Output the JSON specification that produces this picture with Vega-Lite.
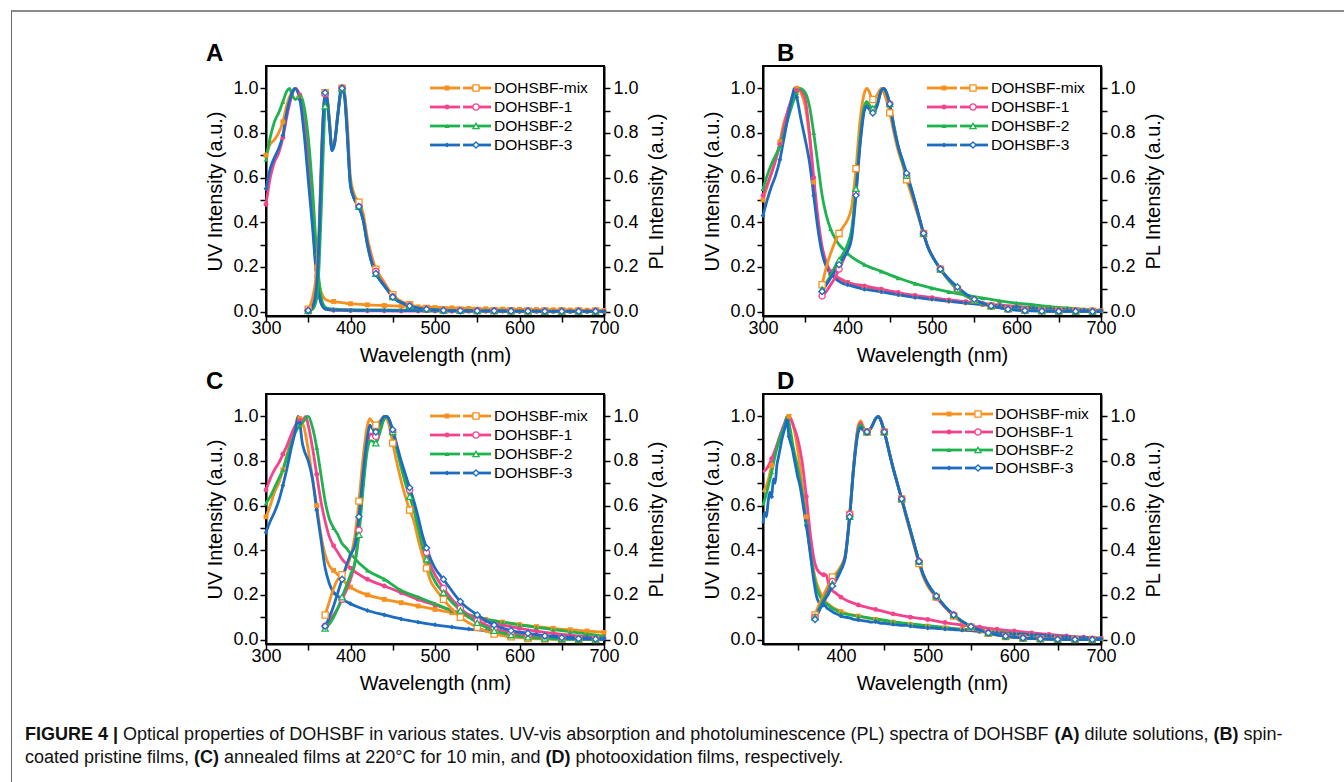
{
"$schema":"https://vega.github.io/schema/vega-lite/v6.json",
"background":"white",
"padding":{"left":8,"top":9,"right":0,"bottom":0},
"autosize":{"type":"pad"},
"bounds":"flush",
"columns":2,
"spacing":{"column":159,"row":78},
"datasets":{
"legend":[{"s":"DOHSBF-mix"},{"s":"DOHSBF-1"},{"s":"DOHSBF-2"},{"s":"DOHSBF-3"}],
"A_UV":[
{"s":"DOHSBF-mix","x":300,"y":0.70},{"s":"DOHSBF-mix","x":305,"y":0.75},{"s":"DOHSBF-mix","x":310,"y":0.77},{"s":"DOHSBF-mix","x":315,"y":0.80},{"s":"DOHSBF-mix","x":320,"y":0.85},{"s":"DOHSBF-mix","x":325,"y":0.93},{"s":"DOHSBF-mix","x":330,"y":0.98},{"s":"DOHSBF-mix","x":335,"y":1.0},{"s":"DOHSBF-mix","x":340,"y":0.96},{"s":"DOHSBF-mix","x":345,"y":0.86},{"s":"DOHSBF-mix","x":350,"y":0.64},{"s":"DOHSBF-mix","x":355,"y":0.42},{"s":"DOHSBF-mix","x":360,"y":0.20},{"s":"DOHSBF-mix","x":365,"y":0.09},{"s":"DOHSBF-mix","x":370,"y":0.055},{"s":"DOHSBF-mix","x":375,"y":0.047},{"s":"DOHSBF-mix","x":380,"y":0.045},{"s":"DOHSBF-mix","x":385,"y":0.042},{"s":"DOHSBF-mix","x":390,"y":0.04},{"s":"DOHSBF-mix","x":395,"y":0.037},{"s":"DOHSBF-mix","x":400,"y":0.035},{"s":"DOHSBF-mix","x":420,"y":0.03},{"s":"DOHSBF-mix","x":440,"y":0.027},{"s":"DOHSBF-mix","x":460,"y":0.024},{"s":"DOHSBF-mix","x":480,"y":0.021},{"s":"DOHSBF-mix","x":500,"y":0.018},{"s":"DOHSBF-mix","x":520,"y":0.016},{"s":"DOHSBF-mix","x":540,"y":0.014},{"s":"DOHSBF-mix","x":560,"y":0.012},{"s":"DOHSBF-mix","x":580,"y":0.011},{"s":"DOHSBF-mix","x":600,"y":0.01},{"s":"DOHSBF-mix","x":620,"y":0.009},{"s":"DOHSBF-mix","x":640,"y":0.008},{"s":"DOHSBF-mix","x":660,"y":0.007},{"s":"DOHSBF-mix","x":680,"y":0.006},{"s":"DOHSBF-mix","x":700,"y":0.005},
{"s":"DOHSBF-1","x":300,"y":0.48},{"s":"DOHSBF-1","x":305,"y":0.60},{"s":"DOHSBF-1","x":310,"y":0.67},{"s":"DOHSBF-1","x":315,"y":0.71},{"s":"DOHSBF-1","x":320,"y":0.78},{"s":"DOHSBF-1","x":325,"y":0.88},{"s":"DOHSBF-1","x":330,"y":0.96},{"s":"DOHSBF-1","x":335,"y":1.0},{"s":"DOHSBF-1","x":340,"y":0.97},{"s":"DOHSBF-1","x":345,"y":0.90},{"s":"DOHSBF-1","x":350,"y":0.68},{"s":"DOHSBF-1","x":355,"y":0.42},{"s":"DOHSBF-1","x":360,"y":0.16},{"s":"DOHSBF-1","x":365,"y":0.04},{"s":"DOHSBF-1","x":370,"y":0.012},{"s":"DOHSBF-1","x":375,"y":0.008},{"s":"DOHSBF-1","x":380,"y":0.006},{"s":"DOHSBF-1","x":385,"y":0.005},{"s":"DOHSBF-1","x":390,"y":0.005},{"s":"DOHSBF-1","x":395,"y":0.004},{"s":"DOHSBF-1","x":400,"y":0.004},{"s":"DOHSBF-1","x":420,"y":0.003},{"s":"DOHSBF-1","x":440,"y":0.003},{"s":"DOHSBF-1","x":460,"y":0.002},{"s":"DOHSBF-1","x":480,"y":0.002},{"s":"DOHSBF-1","x":500,"y":0.002},{"s":"DOHSBF-1","x":520,"y":0.001},{"s":"DOHSBF-1","x":540,"y":0.001},{"s":"DOHSBF-1","x":560,"y":0.001},{"s":"DOHSBF-1","x":580,"y":0.001},{"s":"DOHSBF-1","x":600,"y":0},{"s":"DOHSBF-1","x":620,"y":0},{"s":"DOHSBF-1","x":640,"y":0},{"s":"DOHSBF-1","x":660,"y":0},{"s":"DOHSBF-1","x":680,"y":0},{"s":"DOHSBF-1","x":700,"y":0},
{"s":"DOHSBF-2","x":300,"y":0.68},{"s":"DOHSBF-2","x":305,"y":0.78},{"s":"DOHSBF-2","x":310,"y":0.85},{"s":"DOHSBF-2","x":315,"y":0.89},{"s":"DOHSBF-2","x":320,"y":0.94},{"s":"DOHSBF-2","x":325,"y":0.99},{"s":"DOHSBF-2","x":328,"y":1.0},{"s":"DOHSBF-2","x":330,"y":0.98},{"s":"DOHSBF-2","x":335,"y":0.95},{"s":"DOHSBF-2","x":340,"y":0.97},{"s":"DOHSBF-2","x":345,"y":0.92},{"s":"DOHSBF-2","x":350,"y":0.78},{"s":"DOHSBF-2","x":355,"y":0.55},{"s":"DOHSBF-2","x":360,"y":0.26},{"s":"DOHSBF-2","x":365,"y":0.07},{"s":"DOHSBF-2","x":370,"y":0.02},{"s":"DOHSBF-2","x":375,"y":0.013},{"s":"DOHSBF-2","x":380,"y":0.011},{"s":"DOHSBF-2","x":385,"y":0.01},{"s":"DOHSBF-2","x":390,"y":0.009},{"s":"DOHSBF-2","x":395,"y":0.009},{"s":"DOHSBF-2","x":400,"y":0.008},{"s":"DOHSBF-2","x":420,"y":0.007},{"s":"DOHSBF-2","x":440,"y":0.007},{"s":"DOHSBF-2","x":460,"y":0.006},{"s":"DOHSBF-2","x":480,"y":0.006},{"s":"DOHSBF-2","x":500,"y":0.005},{"s":"DOHSBF-2","x":520,"y":0.005},{"s":"DOHSBF-2","x":540,"y":0.004},{"s":"DOHSBF-2","x":560,"y":0.004},{"s":"DOHSBF-2","x":580,"y":0.003},{"s":"DOHSBF-2","x":600,"y":0.003},{"s":"DOHSBF-2","x":620,"y":0.003},{"s":"DOHSBF-2","x":640,"y":0.002},{"s":"DOHSBF-2","x":660,"y":0.002},{"s":"DOHSBF-2","x":680,"y":0.002},{"s":"DOHSBF-2","x":700,"y":0.002},
{"s":"DOHSBF-3","x":300,"y":0.55},{"s":"DOHSBF-3","x":305,"y":0.64},{"s":"DOHSBF-3","x":310,"y":0.69},{"s":"DOHSBF-3","x":315,"y":0.73},{"s":"DOHSBF-3","x":320,"y":0.79},{"s":"DOHSBF-3","x":325,"y":0.90},{"s":"DOHSBF-3","x":330,"y":0.97},{"s":"DOHSBF-3","x":334,"y":1.0},{"s":"DOHSBF-3","x":340,"y":0.95},{"s":"DOHSBF-3","x":345,"y":0.80},{"s":"DOHSBF-3","x":350,"y":0.59},{"s":"DOHSBF-3","x":355,"y":0.38},{"s":"DOHSBF-3","x":360,"y":0.15},{"s":"DOHSBF-3","x":365,"y":0.04},{"s":"DOHSBF-3","x":370,"y":0.012},{"s":"DOHSBF-3","x":375,"y":0.008},{"s":"DOHSBF-3","x":380,"y":0.007},{"s":"DOHSBF-3","x":385,"y":0.006},{"s":"DOHSBF-3","x":390,"y":0.006},{"s":"DOHSBF-3","x":395,"y":0.006},{"s":"DOHSBF-3","x":400,"y":0.005},{"s":"DOHSBF-3","x":420,"y":0.005},{"s":"DOHSBF-3","x":440,"y":0.005},{"s":"DOHSBF-3","x":460,"y":0.004},{"s":"DOHSBF-3","x":480,"y":0.004},{"s":"DOHSBF-3","x":500,"y":0.004},{"s":"DOHSBF-3","x":520,"y":0.003},{"s":"DOHSBF-3","x":540,"y":0.003},{"s":"DOHSBF-3","x":560,"y":0.003},{"s":"DOHSBF-3","x":580,"y":0.003},{"s":"DOHSBF-3","x":600,"y":0.002},{"s":"DOHSBF-3","x":620,"y":0.002},{"s":"DOHSBF-3","x":640,"y":0.002},{"s":"DOHSBF-3","x":660,"y":0.002},{"s":"DOHSBF-3","x":680,"y":0.002},{"s":"DOHSBF-3","x":700,"y":0.002}
],
"A_PL":[
{"s":"DOHSBF-mix","x":350,"y":0.01},{"s":"DOHSBF-mix","x":355,"y":0.06},{"s":"DOHSBF-mix","x":360,"y":0.19},{"s":"DOHSBF-mix","x":363,"y":0.40},{"s":"DOHSBF-mix","x":366,"y":0.75},{"s":"DOHSBF-mix","x":369,"y":0.95},{"s":"DOHSBF-mix","x":370,"y":0.98},{"s":"DOHSBF-mix","x":372,"y":0.97},{"s":"DOHSBF-mix","x":375,"y":0.87},{"s":"DOHSBF-mix","x":378,"y":0.74},{"s":"DOHSBF-mix","x":381,"y":0.76},{"s":"DOHSBF-mix","x":385,"y":0.89},{"s":"DOHSBF-mix","x":389,"y":0.99},{"s":"DOHSBF-mix","x":390,"y":1.0},{"s":"DOHSBF-mix","x":393,"y":0.98},{"s":"DOHSBF-mix","x":396,"y":0.86},{"s":"DOHSBF-mix","x":400,"y":0.60},{"s":"DOHSBF-mix","x":405,"y":0.52},{"s":"DOHSBF-mix","x":410,"y":0.49},{"s":"DOHSBF-mix","x":415,"y":0.44},{"s":"DOHSBF-mix","x":420,"y":0.33},{"s":"DOHSBF-mix","x":425,"y":0.25},{"s":"DOHSBF-mix","x":430,"y":0.19},{"s":"DOHSBF-mix","x":435,"y":0.16},{"s":"DOHSBF-mix","x":440,"y":0.13},{"s":"DOHSBF-mix","x":445,"y":0.10},{"s":"DOHSBF-mix","x":450,"y":0.075},{"s":"DOHSBF-mix","x":455,"y":0.058},{"s":"DOHSBF-mix","x":460,"y":0.046},{"s":"DOHSBF-mix","x":465,"y":0.037},{"s":"DOHSBF-mix","x":470,"y":0.03},{"s":"DOHSBF-mix","x":475,"y":0.025},{"s":"DOHSBF-mix","x":480,"y":0.02},{"s":"DOHSBF-mix","x":490,"y":0.014},{"s":"DOHSBF-mix","x":500,"y":0.01},{"s":"DOHSBF-mix","x":510,"y":0.008},{"s":"DOHSBF-mix","x":530,"y":0.006},{"s":"DOHSBF-mix","x":550,"y":0.005},{"s":"DOHSBF-mix","x":570,"y":0.004},{"s":"DOHSBF-mix","x":590,"y":0.004},{"s":"DOHSBF-mix","x":610,"y":0.003},{"s":"DOHSBF-mix","x":630,"y":0.003},{"s":"DOHSBF-mix","x":650,"y":0.002},{"s":"DOHSBF-mix","x":670,"y":0.002},{"s":"DOHSBF-mix","x":690,"y":0.002},{"s":"DOHSBF-mix","x":700,"y":0.002},
{"s":"DOHSBF-1","x":350,"y":0.004},{"s":"DOHSBF-1","x":355,"y":0.02},{"s":"DOHSBF-1","x":360,"y":0.11},{"s":"DOHSBF-1","x":363,"y":0.33},{"s":"DOHSBF-1","x":366,"y":0.70},{"s":"DOHSBF-1","x":369,"y":0.94},{"s":"DOHSBF-1","x":370,"y":0.975},{"s":"DOHSBF-1","x":372,"y":0.96},{"s":"DOHSBF-1","x":375,"y":0.85},{"s":"DOHSBF-1","x":378,"y":0.73},{"s":"DOHSBF-1","x":381,"y":0.75},{"s":"DOHSBF-1","x":385,"y":0.88},{"s":"DOHSBF-1","x":389,"y":0.99},{"s":"DOHSBF-1","x":390,"y":1.0},{"s":"DOHSBF-1","x":393,"y":0.97},{"s":"DOHSBF-1","x":396,"y":0.82},{"s":"DOHSBF-1","x":400,"y":0.57},{"s":"DOHSBF-1","x":405,"y":0.50},{"s":"DOHSBF-1","x":410,"y":0.47},{"s":"DOHSBF-1","x":415,"y":0.41},{"s":"DOHSBF-1","x":420,"y":0.31},{"s":"DOHSBF-1","x":425,"y":0.23},{"s":"DOHSBF-1","x":430,"y":0.18},{"s":"DOHSBF-1","x":435,"y":0.145},{"s":"DOHSBF-1","x":440,"y":0.12},{"s":"DOHSBF-1","x":445,"y":0.09},{"s":"DOHSBF-1","x":450,"y":0.066},{"s":"DOHSBF-1","x":455,"y":0.05},{"s":"DOHSBF-1","x":460,"y":0.04},{"s":"DOHSBF-1","x":465,"y":0.032},{"s":"DOHSBF-1","x":470,"y":0.025},{"s":"DOHSBF-1","x":475,"y":0.02},{"s":"DOHSBF-1","x":480,"y":0.015},{"s":"DOHSBF-1","x":490,"y":0.01},{"s":"DOHSBF-1","x":500,"y":0.007},{"s":"DOHSBF-1","x":510,"y":0.005},{"s":"DOHSBF-1","x":530,"y":0.004},{"s":"DOHSBF-1","x":550,"y":0.003},{"s":"DOHSBF-1","x":570,"y":0.003},{"s":"DOHSBF-1","x":590,"y":0.002},{"s":"DOHSBF-1","x":610,"y":0.002},{"s":"DOHSBF-1","x":630,"y":0.001},{"s":"DOHSBF-1","x":650,"y":0.001},{"s":"DOHSBF-1","x":670,"y":0.001},{"s":"DOHSBF-1","x":690,"y":0.001},{"s":"DOHSBF-1","x":700,"y":0},
{"s":"DOHSBF-2","x":350,"y":0.003},{"s":"DOHSBF-2","x":355,"y":0.01},{"s":"DOHSBF-2","x":360,"y":0.06},{"s":"DOHSBF-2","x":363,"y":0.22},{"s":"DOHSBF-2","x":366,"y":0.52},{"s":"DOHSBF-2","x":369,"y":0.85},{"s":"DOHSBF-2","x":370,"y":0.92},{"s":"DOHSBF-2","x":372,"y":0.95},{"s":"DOHSBF-2","x":375,"y":0.85},{"s":"DOHSBF-2","x":378,"y":0.73},{"s":"DOHSBF-2","x":381,"y":0.75},{"s":"DOHSBF-2","x":385,"y":0.88},{"s":"DOHSBF-2","x":389,"y":0.99},{"s":"DOHSBF-2","x":390,"y":1.0},{"s":"DOHSBF-2","x":393,"y":0.97},{"s":"DOHSBF-2","x":396,"y":0.81},{"s":"DOHSBF-2","x":400,"y":0.57},{"s":"DOHSBF-2","x":405,"y":0.50},{"s":"DOHSBF-2","x":410,"y":0.47},{"s":"DOHSBF-2","x":415,"y":0.41},{"s":"DOHSBF-2","x":420,"y":0.30},{"s":"DOHSBF-2","x":425,"y":0.22},{"s":"DOHSBF-2","x":430,"y":0.17},{"s":"DOHSBF-2","x":435,"y":0.14},{"s":"DOHSBF-2","x":440,"y":0.115},{"s":"DOHSBF-2","x":445,"y":0.09},{"s":"DOHSBF-2","x":450,"y":0.065},{"s":"DOHSBF-2","x":455,"y":0.05},{"s":"DOHSBF-2","x":460,"y":0.04},{"s":"DOHSBF-2","x":465,"y":0.032},{"s":"DOHSBF-2","x":470,"y":0.025},{"s":"DOHSBF-2","x":475,"y":0.02},{"s":"DOHSBF-2","x":480,"y":0.015},{"s":"DOHSBF-2","x":490,"y":0.01},{"s":"DOHSBF-2","x":500,"y":0.007},{"s":"DOHSBF-2","x":510,"y":0.005},{"s":"DOHSBF-2","x":530,"y":0.004},{"s":"DOHSBF-2","x":550,"y":0.003},{"s":"DOHSBF-2","x":570,"y":0.003},{"s":"DOHSBF-2","x":590,"y":0.002},{"s":"DOHSBF-2","x":610,"y":0.002},{"s":"DOHSBF-2","x":630,"y":0.001},{"s":"DOHSBF-2","x":650,"y":0.001},{"s":"DOHSBF-2","x":670,"y":0.001},{"s":"DOHSBF-2","x":690,"y":0.001},{"s":"DOHSBF-2","x":700,"y":0},
{"s":"DOHSBF-3","x":350,"y":0.005},{"s":"DOHSBF-3","x":355,"y":0.02},{"s":"DOHSBF-3","x":360,"y":0.12},{"s":"DOHSBF-3","x":363,"y":0.35},{"s":"DOHSBF-3","x":366,"y":0.72},{"s":"DOHSBF-3","x":369,"y":0.95},{"s":"DOHSBF-3","x":370,"y":0.98},{"s":"DOHSBF-3","x":372,"y":0.96},{"s":"DOHSBF-3","x":375,"y":0.84},{"s":"DOHSBF-3","x":378,"y":0.72},{"s":"DOHSBF-3","x":381,"y":0.75},{"s":"DOHSBF-3","x":385,"y":0.88},{"s":"DOHSBF-3","x":389,"y":1.0},{"s":"DOHSBF-3","x":390,"y":1.0},{"s":"DOHSBF-3","x":393,"y":0.96},{"s":"DOHSBF-3","x":396,"y":0.80},{"s":"DOHSBF-3","x":400,"y":0.56},{"s":"DOHSBF-3","x":405,"y":0.50},{"s":"DOHSBF-3","x":410,"y":0.47},{"s":"DOHSBF-3","x":415,"y":0.41},{"s":"DOHSBF-3","x":420,"y":0.30},{"s":"DOHSBF-3","x":425,"y":0.22},{"s":"DOHSBF-3","x":430,"y":0.17},{"s":"DOHSBF-3","x":435,"y":0.14},{"s":"DOHSBF-3","x":440,"y":0.115},{"s":"DOHSBF-3","x":445,"y":0.09},{"s":"DOHSBF-3","x":450,"y":0.065},{"s":"DOHSBF-3","x":455,"y":0.05},{"s":"DOHSBF-3","x":460,"y":0.04},{"s":"DOHSBF-3","x":465,"y":0.032},{"s":"DOHSBF-3","x":470,"y":0.025},{"s":"DOHSBF-3","x":475,"y":0.02},{"s":"DOHSBF-3","x":480,"y":0.015},{"s":"DOHSBF-3","x":490,"y":0.01},{"s":"DOHSBF-3","x":500,"y":0.007},{"s":"DOHSBF-3","x":510,"y":0.005},{"s":"DOHSBF-3","x":530,"y":0.004},{"s":"DOHSBF-3","x":550,"y":0.003},{"s":"DOHSBF-3","x":570,"y":0.003},{"s":"DOHSBF-3","x":590,"y":0.002},{"s":"DOHSBF-3","x":610,"y":0.002},{"s":"DOHSBF-3","x":630,"y":0.001},{"s":"DOHSBF-3","x":650,"y":0.001},{"s":"DOHSBF-3","x":670,"y":0.001},{"s":"DOHSBF-3","x":690,"y":0.001},{"s":"DOHSBF-3","x":700,"y":0}
],
"B_UV":[
{"s":"DOHSBF-mix","x":300,"y":0.50},{"s":"DOHSBF-mix","x":305,"y":0.56},{"s":"DOHSBF-mix","x":310,"y":0.62},{"s":"DOHSBF-mix","x":315,"y":0.68},{"s":"DOHSBF-mix","x":320,"y":0.76},{"s":"DOHSBF-mix","x":325,"y":0.85},{"s":"DOHSBF-mix","x":330,"y":0.90},{"s":"DOHSBF-mix","x":335,"y":0.97},{"s":"DOHSBF-mix","x":340,"y":1.0},{"s":"DOHSBF-mix","x":345,"y":0.98},{"s":"DOHSBF-mix","x":350,"y":0.92},{"s":"DOHSBF-mix","x":355,"y":0.78},{"s":"DOHSBF-mix","x":360,"y":0.58},{"s":"DOHSBF-mix","x":365,"y":0.40},{"s":"DOHSBF-mix","x":370,"y":0.28},{"s":"DOHSBF-mix","x":375,"y":0.21},{"s":"DOHSBF-mix","x":380,"y":0.17},{"s":"DOHSBF-mix","x":385,"y":0.155},{"s":"DOHSBF-mix","x":390,"y":0.145},{"s":"DOHSBF-mix","x":395,"y":0.135},{"s":"DOHSBF-mix","x":400,"y":0.13},{"s":"DOHSBF-mix","x":420,"y":0.11},{"s":"DOHSBF-mix","x":440,"y":0.095},{"s":"DOHSBF-mix","x":460,"y":0.08},{"s":"DOHSBF-mix","x":480,"y":0.068},{"s":"DOHSBF-mix","x":500,"y":0.058},{"s":"DOHSBF-mix","x":520,"y":0.048},{"s":"DOHSBF-mix","x":540,"y":0.04},{"s":"DOHSBF-mix","x":560,"y":0.032},{"s":"DOHSBF-mix","x":580,"y":0.025},{"s":"DOHSBF-mix","x":600,"y":0.02},{"s":"DOHSBF-mix","x":620,"y":0.015},{"s":"DOHSBF-mix","x":640,"y":0.011},{"s":"DOHSBF-mix","x":660,"y":0.008},{"s":"DOHSBF-mix","x":680,"y":0.006},{"s":"DOHSBF-mix","x":700,"y":0.004},
{"s":"DOHSBF-1","x":300,"y":0.52},{"s":"DOHSBF-1","x":305,"y":0.57},{"s":"DOHSBF-1","x":310,"y":0.62},{"s":"DOHSBF-1","x":315,"y":0.68},{"s":"DOHSBF-1","x":320,"y":0.75},{"s":"DOHSBF-1","x":325,"y":0.83},{"s":"DOHSBF-1","x":330,"y":0.91},{"s":"DOHSBF-1","x":335,"y":0.96},{"s":"DOHSBF-1","x":340,"y":0.99},{"s":"DOHSBF-1","x":343,"y":1.0},{"s":"DOHSBF-1","x":345,"y":0.99},{"s":"DOHSBF-1","x":350,"y":0.95},{"s":"DOHSBF-1","x":355,"y":0.80},{"s":"DOHSBF-1","x":360,"y":0.60},{"s":"DOHSBF-1","x":365,"y":0.42},{"s":"DOHSBF-1","x":370,"y":0.29},{"s":"DOHSBF-1","x":375,"y":0.22},{"s":"DOHSBF-1","x":380,"y":0.18},{"s":"DOHSBF-1","x":385,"y":0.16},{"s":"DOHSBF-1","x":390,"y":0.15},{"s":"DOHSBF-1","x":395,"y":0.14},{"s":"DOHSBF-1","x":400,"y":0.13},{"s":"DOHSBF-1","x":420,"y":0.115},{"s":"DOHSBF-1","x":440,"y":0.10},{"s":"DOHSBF-1","x":460,"y":0.085},{"s":"DOHSBF-1","x":480,"y":0.072},{"s":"DOHSBF-1","x":500,"y":0.062},{"s":"DOHSBF-1","x":520,"y":0.052},{"s":"DOHSBF-1","x":540,"y":0.044},{"s":"DOHSBF-1","x":560,"y":0.036},{"s":"DOHSBF-1","x":580,"y":0.029},{"s":"DOHSBF-1","x":600,"y":0.023},{"s":"DOHSBF-1","x":620,"y":0.017},{"s":"DOHSBF-1","x":640,"y":0.012},{"s":"DOHSBF-1","x":660,"y":0.009},{"s":"DOHSBF-1","x":680,"y":0.006},{"s":"DOHSBF-1","x":700,"y":0.004},
{"s":"DOHSBF-2","x":300,"y":0.55},{"s":"DOHSBF-2","x":305,"y":0.61},{"s":"DOHSBF-2","x":310,"y":0.66},{"s":"DOHSBF-2","x":315,"y":0.70},{"s":"DOHSBF-2","x":320,"y":0.74},{"s":"DOHSBF-2","x":325,"y":0.80},{"s":"DOHSBF-2","x":330,"y":0.87},{"s":"DOHSBF-2","x":335,"y":0.93},{"s":"DOHSBF-2","x":340,"y":0.98},{"s":"DOHSBF-2","x":344,"y":1.0},{"s":"DOHSBF-2","x":348,"y":0.99},{"s":"DOHSBF-2","x":350,"y":0.98},{"s":"DOHSBF-2","x":355,"y":0.92},{"s":"DOHSBF-2","x":360,"y":0.80},{"s":"DOHSBF-2","x":365,"y":0.66},{"s":"DOHSBF-2","x":370,"y":0.52},{"s":"DOHSBF-2","x":375,"y":0.43},{"s":"DOHSBF-2","x":380,"y":0.37},{"s":"DOHSBF-2","x":385,"y":0.33},{"s":"DOHSBF-2","x":390,"y":0.30},{"s":"DOHSBF-2","x":395,"y":0.28},{"s":"DOHSBF-2","x":400,"y":0.26},{"s":"DOHSBF-2","x":420,"y":0.21},{"s":"DOHSBF-2","x":440,"y":0.18},{"s":"DOHSBF-2","x":460,"y":0.15},{"s":"DOHSBF-2","x":480,"y":0.125},{"s":"DOHSBF-2","x":500,"y":0.105},{"s":"DOHSBF-2","x":520,"y":0.088},{"s":"DOHSBF-2","x":540,"y":0.073},{"s":"DOHSBF-2","x":560,"y":0.06},{"s":"DOHSBF-2","x":580,"y":0.048},{"s":"DOHSBF-2","x":600,"y":0.038},{"s":"DOHSBF-2","x":620,"y":0.03},{"s":"DOHSBF-2","x":640,"y":0.022},{"s":"DOHSBF-2","x":660,"y":0.016},{"s":"DOHSBF-2","x":680,"y":0.01},{"s":"DOHSBF-2","x":700,"y":0.005},
{"s":"DOHSBF-3","x":300,"y":0.43},{"s":"DOHSBF-3","x":305,"y":0.50},{"s":"DOHSBF-3","x":310,"y":0.56},{"s":"DOHSBF-3","x":315,"y":0.61},{"s":"DOHSBF-3","x":320,"y":0.68},{"s":"DOHSBF-3","x":325,"y":0.78},{"s":"DOHSBF-3","x":330,"y":0.88},{"s":"DOHSBF-3","x":335,"y":0.97},{"s":"DOHSBF-3","x":337,"y":1.0},{"s":"DOHSBF-3","x":340,"y":0.96},{"s":"DOHSBF-3","x":345,"y":0.86},{"s":"DOHSBF-3","x":350,"y":0.77},{"s":"DOHSBF-3","x":355,"y":0.67},{"s":"DOHSBF-3","x":360,"y":0.52},{"s":"DOHSBF-3","x":365,"y":0.37},{"s":"DOHSBF-3","x":370,"y":0.26},{"s":"DOHSBF-3","x":375,"y":0.20},{"s":"DOHSBF-3","x":380,"y":0.17},{"s":"DOHSBF-3","x":385,"y":0.15},{"s":"DOHSBF-3","x":390,"y":0.135},{"s":"DOHSBF-3","x":395,"y":0.125},{"s":"DOHSBF-3","x":400,"y":0.12},{"s":"DOHSBF-3","x":420,"y":0.10},{"s":"DOHSBF-3","x":440,"y":0.088},{"s":"DOHSBF-3","x":460,"y":0.075},{"s":"DOHSBF-3","x":480,"y":0.063},{"s":"DOHSBF-3","x":500,"y":0.055},{"s":"DOHSBF-3","x":520,"y":0.046},{"s":"DOHSBF-3","x":540,"y":0.038},{"s":"DOHSBF-3","x":560,"y":0.031},{"s":"DOHSBF-3","x":580,"y":0.025},{"s":"DOHSBF-3","x":600,"y":0.02},{"s":"DOHSBF-3","x":620,"y":0.015},{"s":"DOHSBF-3","x":640,"y":0.011},{"s":"DOHSBF-3","x":660,"y":0.008},{"s":"DOHSBF-3","x":680,"y":0.005},{"s":"DOHSBF-3","x":700,"y":0.003}
],
"B_PL":[
{"s":"DOHSBF-mix","x":370,"y":0.12},{"s":"DOHSBF-mix","x":375,"y":0.20},{"s":"DOHSBF-mix","x":380,"y":0.26},{"s":"DOHSBF-mix","x":385,"y":0.31},{"s":"DOHSBF-mix","x":390,"y":0.35},{"s":"DOHSBF-mix","x":395,"y":0.38},{"s":"DOHSBF-mix","x":400,"y":0.41},{"s":"DOHSBF-mix","x":405,"y":0.47},{"s":"DOHSBF-mix","x":410,"y":0.64},{"s":"DOHSBF-mix","x":415,"y":0.86},{"s":"DOHSBF-mix","x":420,"y":0.98},{"s":"DOHSBF-mix","x":423,"y":1.0},{"s":"DOHSBF-mix","x":425,"y":0.99},{"s":"DOHSBF-mix","x":430,"y":0.95},{"s":"DOHSBF-mix","x":435,"y":0.97},{"s":"DOHSBF-mix","x":440,"y":1.0},{"s":"DOHSBF-mix","x":443,"y":0.98},{"s":"DOHSBF-mix","x":445,"y":0.96},{"s":"DOHSBF-mix","x":450,"y":0.89},{"s":"DOHSBF-mix","x":455,"y":0.80},{"s":"DOHSBF-mix","x":460,"y":0.72},{"s":"DOHSBF-mix","x":465,"y":0.66},{"s":"DOHSBF-mix","x":470,"y":0.59},{"s":"DOHSBF-mix","x":475,"y":0.53},{"s":"DOHSBF-mix","x":480,"y":0.47},{"s":"DOHSBF-mix","x":485,"y":0.41},{"s":"DOHSBF-mix","x":490,"y":0.35},{"s":"DOHSBF-mix","x":495,"y":0.29},{"s":"DOHSBF-mix","x":500,"y":0.25},{"s":"DOHSBF-mix","x":510,"y":0.19},{"s":"DOHSBF-mix","x":530,"y":0.10},{"s":"DOHSBF-mix","x":550,"y":0.05},{"s":"DOHSBF-mix","x":570,"y":0.025},{"s":"DOHSBF-mix","x":590,"y":0.012},{"s":"DOHSBF-mix","x":610,"y":0.006},{"s":"DOHSBF-mix","x":630,"y":0.003},{"s":"DOHSBF-mix","x":650,"y":0.002},{"s":"DOHSBF-mix","x":670,"y":0.001},{"s":"DOHSBF-mix","x":690,"y":0.001},{"s":"DOHSBF-mix","x":700,"y":0},
{"s":"DOHSBF-1","x":370,"y":0.07},{"s":"DOHSBF-1","x":375,"y":0.09},{"s":"DOHSBF-1","x":380,"y":0.12},{"s":"DOHSBF-1","x":385,"y":0.15},{"s":"DOHSBF-1","x":390,"y":0.19},{"s":"DOHSBF-1","x":395,"y":0.23},{"s":"DOHSBF-1","x":400,"y":0.28},{"s":"DOHSBF-1","x":405,"y":0.35},{"s":"DOHSBF-1","x":410,"y":0.53},{"s":"DOHSBF-1","x":415,"y":0.76},{"s":"DOHSBF-1","x":420,"y":0.91},{"s":"DOHSBF-1","x":423,"y":0.93},{"s":"DOHSBF-1","x":425,"y":0.92},{"s":"DOHSBF-1","x":430,"y":0.90},{"s":"DOHSBF-1","x":435,"y":0.93},{"s":"DOHSBF-1","x":440,"y":0.99},{"s":"DOHSBF-1","x":443,"y":1.0},{"s":"DOHSBF-1","x":445,"y":0.99},{"s":"DOHSBF-1","x":450,"y":0.93},{"s":"DOHSBF-1","x":455,"y":0.83},{"s":"DOHSBF-1","x":460,"y":0.74},{"s":"DOHSBF-1","x":465,"y":0.67},{"s":"DOHSBF-1","x":470,"y":0.61},{"s":"DOHSBF-1","x":475,"y":0.55},{"s":"DOHSBF-1","x":480,"y":0.49},{"s":"DOHSBF-1","x":485,"y":0.42},{"s":"DOHSBF-1","x":490,"y":0.35},{"s":"DOHSBF-1","x":495,"y":0.29},{"s":"DOHSBF-1","x":500,"y":0.25},{"s":"DOHSBF-1","x":510,"y":0.19},{"s":"DOHSBF-1","x":530,"y":0.10},{"s":"DOHSBF-1","x":550,"y":0.05},{"s":"DOHSBF-1","x":570,"y":0.025},{"s":"DOHSBF-1","x":590,"y":0.012},{"s":"DOHSBF-1","x":610,"y":0.006},{"s":"DOHSBF-1","x":630,"y":0.003},{"s":"DOHSBF-1","x":650,"y":0.002},{"s":"DOHSBF-1","x":670,"y":0.001},{"s":"DOHSBF-1","x":690,"y":0.001},{"s":"DOHSBF-1","x":700,"y":0},
{"s":"DOHSBF-2","x":370,"y":0.10},{"s":"DOHSBF-2","x":375,"y":0.13},{"s":"DOHSBF-2","x":380,"y":0.16},{"s":"DOHSBF-2","x":385,"y":0.20},{"s":"DOHSBF-2","x":390,"y":0.23},{"s":"DOHSBF-2","x":395,"y":0.26},{"s":"DOHSBF-2","x":400,"y":0.30},{"s":"DOHSBF-2","x":405,"y":0.37},{"s":"DOHSBF-2","x":410,"y":0.55},{"s":"DOHSBF-2","x":415,"y":0.78},{"s":"DOHSBF-2","x":420,"y":0.92},{"s":"DOHSBF-2","x":423,"y":0.94},{"s":"DOHSBF-2","x":425,"y":0.93},{"s":"DOHSBF-2","x":430,"y":0.91},{"s":"DOHSBF-2","x":435,"y":0.93},{"s":"DOHSBF-2","x":440,"y":0.99},{"s":"DOHSBF-2","x":443,"y":1.0},{"s":"DOHSBF-2","x":445,"y":0.99},{"s":"DOHSBF-2","x":450,"y":0.93},{"s":"DOHSBF-2","x":455,"y":0.83},{"s":"DOHSBF-2","x":460,"y":0.74},{"s":"DOHSBF-2","x":465,"y":0.67},{"s":"DOHSBF-2","x":470,"y":0.61},{"s":"DOHSBF-2","x":475,"y":0.55},{"s":"DOHSBF-2","x":480,"y":0.49},{"s":"DOHSBF-2","x":485,"y":0.42},{"s":"DOHSBF-2","x":490,"y":0.35},{"s":"DOHSBF-2","x":495,"y":0.29},{"s":"DOHSBF-2","x":500,"y":0.25},{"s":"DOHSBF-2","x":510,"y":0.19},{"s":"DOHSBF-2","x":530,"y":0.10},{"s":"DOHSBF-2","x":550,"y":0.05},{"s":"DOHSBF-2","x":570,"y":0.025},{"s":"DOHSBF-2","x":590,"y":0.012},{"s":"DOHSBF-2","x":610,"y":0.006},{"s":"DOHSBF-2","x":630,"y":0.003},{"s":"DOHSBF-2","x":650,"y":0.002},{"s":"DOHSBF-2","x":670,"y":0.001},{"s":"DOHSBF-2","x":690,"y":0.001},{"s":"DOHSBF-2","x":700,"y":0},
{"s":"DOHSBF-3","x":370,"y":0.09},{"s":"DOHSBF-3","x":375,"y":0.12},{"s":"DOHSBF-3","x":380,"y":0.15},{"s":"DOHSBF-3","x":385,"y":0.18},{"s":"DOHSBF-3","x":390,"y":0.21},{"s":"DOHSBF-3","x":395,"y":0.24},{"s":"DOHSBF-3","x":400,"y":0.27},{"s":"DOHSBF-3","x":405,"y":0.33},{"s":"DOHSBF-3","x":410,"y":0.52},{"s":"DOHSBF-3","x":415,"y":0.75},{"s":"DOHSBF-3","x":420,"y":0.90},{"s":"DOHSBF-3","x":423,"y":0.92},{"s":"DOHSBF-3","x":425,"y":0.91},{"s":"DOHSBF-3","x":430,"y":0.89},{"s":"DOHSBF-3","x":435,"y":0.92},{"s":"DOHSBF-3","x":440,"y":0.99},{"s":"DOHSBF-3","x":443,"y":1.0},{"s":"DOHSBF-3","x":445,"y":0.99},{"s":"DOHSBF-3","x":450,"y":0.93},{"s":"DOHSBF-3","x":455,"y":0.82},{"s":"DOHSBF-3","x":460,"y":0.74},{"s":"DOHSBF-3","x":465,"y":0.68},{"s":"DOHSBF-3","x":470,"y":0.62},{"s":"DOHSBF-3","x":475,"y":0.56},{"s":"DOHSBF-3","x":480,"y":0.49},{"s":"DOHSBF-3","x":485,"y":0.42},{"s":"DOHSBF-3","x":490,"y":0.35},{"s":"DOHSBF-3","x":495,"y":0.29},{"s":"DOHSBF-3","x":500,"y":0.25},{"s":"DOHSBF-3","x":510,"y":0.19},{"s":"DOHSBF-3","x":530,"y":0.11},{"s":"DOHSBF-3","x":550,"y":0.055},{"s":"DOHSBF-3","x":570,"y":0.025},{"s":"DOHSBF-3","x":590,"y":0.01},{"s":"DOHSBF-3","x":610,"y":0.004},{"s":"DOHSBF-3","x":630,"y":0.002},{"s":"DOHSBF-3","x":650,"y":0.001},{"s":"DOHSBF-3","x":670,"y":0.001},{"s":"DOHSBF-3","x":690,"y":0},{"s":"DOHSBF-3","x":700,"y":0}
],
"C_UV":[
{"s":"DOHSBF-mix","x":300,"y":0.55},{"s":"DOHSBF-mix","x":305,"y":0.60},{"s":"DOHSBF-mix","x":310,"y":0.66},{"s":"DOHSBF-mix","x":315,"y":0.70},{"s":"DOHSBF-mix","x":320,"y":0.76},{"s":"DOHSBF-mix","x":325,"y":0.83},{"s":"DOHSBF-mix","x":330,"y":0.90},{"s":"DOHSBF-mix","x":335,"y":0.96},{"s":"DOHSBF-mix","x":338,"y":1.0},{"s":"DOHSBF-mix","x":340,"y":0.99},{"s":"DOHSBF-mix","x":345,"y":0.95},{"s":"DOHSBF-mix","x":350,"y":0.85},{"s":"DOHSBF-mix","x":355,"y":0.72},{"s":"DOHSBF-mix","x":360,"y":0.60},{"s":"DOHSBF-mix","x":365,"y":0.47},{"s":"DOHSBF-mix","x":370,"y":0.38},{"s":"DOHSBF-mix","x":375,"y":0.33},{"s":"DOHSBF-mix","x":380,"y":0.31},{"s":"DOHSBF-mix","x":385,"y":0.29},{"s":"DOHSBF-mix","x":390,"y":0.27},{"s":"DOHSBF-mix","x":395,"y":0.25},{"s":"DOHSBF-mix","x":400,"y":0.235},{"s":"DOHSBF-mix","x":420,"y":0.20},{"s":"DOHSBF-mix","x":440,"y":0.18},{"s":"DOHSBF-mix","x":460,"y":0.165},{"s":"DOHSBF-mix","x":480,"y":0.15},{"s":"DOHSBF-mix","x":500,"y":0.135},{"s":"DOHSBF-mix","x":520,"y":0.12},{"s":"DOHSBF-mix","x":540,"y":0.105},{"s":"DOHSBF-mix","x":560,"y":0.09},{"s":"DOHSBF-mix","x":580,"y":0.078},{"s":"DOHSBF-mix","x":600,"y":0.067},{"s":"DOHSBF-mix","x":620,"y":0.058},{"s":"DOHSBF-mix","x":640,"y":0.05},{"s":"DOHSBF-mix","x":660,"y":0.044},{"s":"DOHSBF-mix","x":680,"y":0.038},{"s":"DOHSBF-mix","x":700,"y":0.032},
{"s":"DOHSBF-1","x":300,"y":0.67},{"s":"DOHSBF-1","x":305,"y":0.72},{"s":"DOHSBF-1","x":310,"y":0.76},{"s":"DOHSBF-1","x":315,"y":0.79},{"s":"DOHSBF-1","x":320,"y":0.83},{"s":"DOHSBF-1","x":325,"y":0.87},{"s":"DOHSBF-1","x":330,"y":0.92},{"s":"DOHSBF-1","x":335,"y":0.96},{"s":"DOHSBF-1","x":340,"y":0.98},{"s":"DOHSBF-1","x":345,"y":0.99},{"s":"DOHSBF-1","x":347,"y":1.0},{"s":"DOHSBF-1","x":350,"y":0.96},{"s":"DOHSBF-1","x":355,"y":0.86},{"s":"DOHSBF-1","x":360,"y":0.74},{"s":"DOHSBF-1","x":365,"y":0.62},{"s":"DOHSBF-1","x":370,"y":0.53},{"s":"DOHSBF-1","x":375,"y":0.46},{"s":"DOHSBF-1","x":380,"y":0.42},{"s":"DOHSBF-1","x":385,"y":0.39},{"s":"DOHSBF-1","x":390,"y":0.36},{"s":"DOHSBF-1","x":395,"y":0.34},{"s":"DOHSBF-1","x":400,"y":0.32},{"s":"DOHSBF-1","x":420,"y":0.27},{"s":"DOHSBF-1","x":440,"y":0.24},{"s":"DOHSBF-1","x":460,"y":0.21},{"s":"DOHSBF-1","x":480,"y":0.18},{"s":"DOHSBF-1","x":500,"y":0.155},{"s":"DOHSBF-1","x":520,"y":0.13},{"s":"DOHSBF-1","x":540,"y":0.105},{"s":"DOHSBF-1","x":560,"y":0.085},{"s":"DOHSBF-1","x":580,"y":0.066},{"s":"DOHSBF-1","x":600,"y":0.05},{"s":"DOHSBF-1","x":620,"y":0.038},{"s":"DOHSBF-1","x":640,"y":0.028},{"s":"DOHSBF-1","x":660,"y":0.02},{"s":"DOHSBF-1","x":680,"y":0.013},{"s":"DOHSBF-1","x":700,"y":0.008},
{"s":"DOHSBF-2","x":300,"y":0.61},{"s":"DOHSBF-2","x":305,"y":0.64},{"s":"DOHSBF-2","x":310,"y":0.68},{"s":"DOHSBF-2","x":315,"y":0.72},{"s":"DOHSBF-2","x":320,"y":0.76},{"s":"DOHSBF-2","x":325,"y":0.82},{"s":"DOHSBF-2","x":330,"y":0.88},{"s":"DOHSBF-2","x":335,"y":0.93},{"s":"DOHSBF-2","x":340,"y":0.96},{"s":"DOHSBF-2","x":345,"y":0.98},{"s":"DOHSBF-2","x":349,"y":1.0},{"s":"DOHSBF-2","x":350,"y":1.0},{"s":"DOHSBF-2","x":355,"y":0.95},{"s":"DOHSBF-2","x":360,"y":0.86},{"s":"DOHSBF-2","x":365,"y":0.74},{"s":"DOHSBF-2","x":370,"y":0.62},{"s":"DOHSBF-2","x":375,"y":0.54},{"s":"DOHSBF-2","x":380,"y":0.50},{"s":"DOHSBF-2","x":385,"y":0.47},{"s":"DOHSBF-2","x":390,"y":0.43},{"s":"DOHSBF-2","x":395,"y":0.41},{"s":"DOHSBF-2","x":400,"y":0.385},{"s":"DOHSBF-2","x":420,"y":0.31},{"s":"DOHSBF-2","x":440,"y":0.27},{"s":"DOHSBF-2","x":460,"y":0.22},{"s":"DOHSBF-2","x":480,"y":0.19},{"s":"DOHSBF-2","x":500,"y":0.16},{"s":"DOHSBF-2","x":520,"y":0.13},{"s":"DOHSBF-2","x":540,"y":0.11},{"s":"DOHSBF-2","x":560,"y":0.092},{"s":"DOHSBF-2","x":580,"y":0.078},{"s":"DOHSBF-2","x":600,"y":0.066},{"s":"DOHSBF-2","x":620,"y":0.055},{"s":"DOHSBF-2","x":640,"y":0.045},{"s":"DOHSBF-2","x":660,"y":0.035},{"s":"DOHSBF-2","x":680,"y":0.025},{"s":"DOHSBF-2","x":700,"y":0.015},
{"s":"DOHSBF-3","x":300,"y":0.48},{"s":"DOHSBF-3","x":305,"y":0.53},{"s":"DOHSBF-3","x":310,"y":0.57},{"s":"DOHSBF-3","x":315,"y":0.62},{"s":"DOHSBF-3","x":320,"y":0.69},{"s":"DOHSBF-3","x":325,"y":0.77},{"s":"DOHSBF-3","x":330,"y":0.86},{"s":"DOHSBF-3","x":335,"y":0.94},{"s":"DOHSBF-3","x":338,"y":1.0},{"s":"DOHSBF-3","x":340,"y":0.97},{"s":"DOHSBF-3","x":343,"y":0.88},{"s":"DOHSBF-3","x":345,"y":0.85},{"s":"DOHSBF-3","x":350,"y":0.80},{"s":"DOHSBF-3","x":355,"y":0.72},{"s":"DOHSBF-3","x":360,"y":0.58},{"s":"DOHSBF-3","x":365,"y":0.45},{"s":"DOHSBF-3","x":370,"y":0.32},{"s":"DOHSBF-3","x":375,"y":0.25},{"s":"DOHSBF-3","x":380,"y":0.21},{"s":"DOHSBF-3","x":385,"y":0.195},{"s":"DOHSBF-3","x":390,"y":0.18},{"s":"DOHSBF-3","x":395,"y":0.17},{"s":"DOHSBF-3","x":400,"y":0.16},{"s":"DOHSBF-3","x":420,"y":0.13},{"s":"DOHSBF-3","x":440,"y":0.11},{"s":"DOHSBF-3","x":460,"y":0.092},{"s":"DOHSBF-3","x":480,"y":0.078},{"s":"DOHSBF-3","x":500,"y":0.066},{"s":"DOHSBF-3","x":520,"y":0.056},{"s":"DOHSBF-3","x":540,"y":0.047},{"s":"DOHSBF-3","x":560,"y":0.04},{"s":"DOHSBF-3","x":580,"y":0.032},{"s":"DOHSBF-3","x":600,"y":0.026},{"s":"DOHSBF-3","x":620,"y":0.02},{"s":"DOHSBF-3","x":640,"y":0.015},{"s":"DOHSBF-3","x":660,"y":0.011},{"s":"DOHSBF-3","x":680,"y":0.008},{"s":"DOHSBF-3","x":700,"y":0.005}
],
"C_PL":[
{"s":"DOHSBF-mix","x":370,"y":0.11},{"s":"DOHSBF-mix","x":375,"y":0.17},{"s":"DOHSBF-mix","x":380,"y":0.23},{"s":"DOHSBF-mix","x":385,"y":0.27},{"s":"DOHSBF-mix","x":390,"y":0.29},{"s":"DOHSBF-mix","x":395,"y":0.32},{"s":"DOHSBF-mix","x":400,"y":0.37},{"s":"DOHSBF-mix","x":405,"y":0.46},{"s":"DOHSBF-mix","x":410,"y":0.62},{"s":"DOHSBF-mix","x":415,"y":0.82},{"s":"DOHSBF-mix","x":420,"y":0.96},{"s":"DOHSBF-mix","x":423,"y":0.99},{"s":"DOHSBF-mix","x":425,"y":0.98},{"s":"DOHSBF-mix","x":430,"y":0.96},{"s":"DOHSBF-mix","x":435,"y":0.98},{"s":"DOHSBF-mix","x":440,"y":1.0},{"s":"DOHSBF-mix","x":443,"y":0.99},{"s":"DOHSBF-mix","x":445,"y":0.97},{"s":"DOHSBF-mix","x":450,"y":0.88},{"s":"DOHSBF-mix","x":455,"y":0.79},{"s":"DOHSBF-mix","x":460,"y":0.71},{"s":"DOHSBF-mix","x":465,"y":0.64},{"s":"DOHSBF-mix","x":470,"y":0.58},{"s":"DOHSBF-mix","x":475,"y":0.53},{"s":"DOHSBF-mix","x":480,"y":0.45},{"s":"DOHSBF-mix","x":485,"y":0.38},{"s":"DOHSBF-mix","x":490,"y":0.32},{"s":"DOHSBF-mix","x":495,"y":0.26},{"s":"DOHSBF-mix","x":500,"y":0.23},{"s":"DOHSBF-mix","x":510,"y":0.18},{"s":"DOHSBF-mix","x":530,"y":0.10},{"s":"DOHSBF-mix","x":550,"y":0.055},{"s":"DOHSBF-mix","x":570,"y":0.025},{"s":"DOHSBF-mix","x":590,"y":0.012},{"s":"DOHSBF-mix","x":610,"y":0.005},{"s":"DOHSBF-mix","x":630,"y":0.002},{"s":"DOHSBF-mix","x":650,"y":0.001},{"s":"DOHSBF-mix","x":670,"y":0},{"s":"DOHSBF-mix","x":690,"y":0},{"s":"DOHSBF-mix","x":700,"y":0},
{"s":"DOHSBF-1","x":370,"y":0.06},{"s":"DOHSBF-1","x":375,"y":0.08},{"s":"DOHSBF-1","x":380,"y":0.11},{"s":"DOHSBF-1","x":385,"y":0.14},{"s":"DOHSBF-1","x":390,"y":0.18},{"s":"DOHSBF-1","x":395,"y":0.22},{"s":"DOHSBF-1","x":400,"y":0.27},{"s":"DOHSBF-1","x":405,"y":0.34},{"s":"DOHSBF-1","x":410,"y":0.49},{"s":"DOHSBF-1","x":415,"y":0.70},{"s":"DOHSBF-1","x":420,"y":0.87},{"s":"DOHSBF-1","x":423,"y":0.92},{"s":"DOHSBF-1","x":425,"y":0.92},{"s":"DOHSBF-1","x":430,"y":0.91},{"s":"DOHSBF-1","x":435,"y":0.95},{"s":"DOHSBF-1","x":440,"y":0.99},{"s":"DOHSBF-1","x":443,"y":1.0},{"s":"DOHSBF-1","x":445,"y":0.99},{"s":"DOHSBF-1","x":450,"y":0.93},{"s":"DOHSBF-1","x":455,"y":0.86},{"s":"DOHSBF-1","x":460,"y":0.79},{"s":"DOHSBF-1","x":465,"y":0.73},{"s":"DOHSBF-1","x":470,"y":0.67},{"s":"DOHSBF-1","x":475,"y":0.61},{"s":"DOHSBF-1","x":480,"y":0.53},{"s":"DOHSBF-1","x":485,"y":0.45},{"s":"DOHSBF-1","x":490,"y":0.39},{"s":"DOHSBF-1","x":495,"y":0.33},{"s":"DOHSBF-1","x":500,"y":0.29},{"s":"DOHSBF-1","x":510,"y":0.23},{"s":"DOHSBF-1","x":530,"y":0.14},{"s":"DOHSBF-1","x":550,"y":0.085},{"s":"DOHSBF-1","x":570,"y":0.05},{"s":"DOHSBF-1","x":590,"y":0.03},{"s":"DOHSBF-1","x":610,"y":0.017},{"s":"DOHSBF-1","x":630,"y":0.009},{"s":"DOHSBF-1","x":650,"y":0.005},{"s":"DOHSBF-1","x":670,"y":0.002},{"s":"DOHSBF-1","x":690,"y":0.001},{"s":"DOHSBF-1","x":700,"y":0},
{"s":"DOHSBF-2","x":370,"y":0.05},{"s":"DOHSBF-2","x":375,"y":0.07},{"s":"DOHSBF-2","x":380,"y":0.10},{"s":"DOHSBF-2","x":385,"y":0.14},{"s":"DOHSBF-2","x":390,"y":0.19},{"s":"DOHSBF-2","x":395,"y":0.24},{"s":"DOHSBF-2","x":400,"y":0.29},{"s":"DOHSBF-2","x":405,"y":0.34},{"s":"DOHSBF-2","x":410,"y":0.47},{"s":"DOHSBF-2","x":415,"y":0.68},{"s":"DOHSBF-2","x":420,"y":0.85},{"s":"DOHSBF-2","x":423,"y":0.89},{"s":"DOHSBF-2","x":425,"y":0.89},{"s":"DOHSBF-2","x":430,"y":0.88},{"s":"DOHSBF-2","x":435,"y":0.93},{"s":"DOHSBF-2","x":440,"y":0.99},{"s":"DOHSBF-2","x":443,"y":1.0},{"s":"DOHSBF-2","x":445,"y":0.99},{"s":"DOHSBF-2","x":450,"y":0.93},{"s":"DOHSBF-2","x":455,"y":0.85},{"s":"DOHSBF-2","x":460,"y":0.77},{"s":"DOHSBF-2","x":465,"y":0.70},{"s":"DOHSBF-2","x":470,"y":0.64},{"s":"DOHSBF-2","x":475,"y":0.58},{"s":"DOHSBF-2","x":480,"y":0.50},{"s":"DOHSBF-2","x":485,"y":0.42},{"s":"DOHSBF-2","x":490,"y":0.36},{"s":"DOHSBF-2","x":495,"y":0.30},{"s":"DOHSBF-2","x":500,"y":0.26},{"s":"DOHSBF-2","x":510,"y":0.21},{"s":"DOHSBF-2","x":530,"y":0.13},{"s":"DOHSBF-2","x":550,"y":0.075},{"s":"DOHSBF-2","x":570,"y":0.04},{"s":"DOHSBF-2","x":590,"y":0.02},{"s":"DOHSBF-2","x":610,"y":0.01},{"s":"DOHSBF-2","x":630,"y":0.005},{"s":"DOHSBF-2","x":650,"y":0.002},{"s":"DOHSBF-2","x":670,"y":0.001},{"s":"DOHSBF-2","x":690,"y":0},{"s":"DOHSBF-2","x":700,"y":0},
{"s":"DOHSBF-3","x":370,"y":0.06},{"s":"DOHSBF-3","x":375,"y":0.10},{"s":"DOHSBF-3","x":380,"y":0.15},{"s":"DOHSBF-3","x":385,"y":0.21},{"s":"DOHSBF-3","x":390,"y":0.27},{"s":"DOHSBF-3","x":395,"y":0.33},{"s":"DOHSBF-3","x":400,"y":0.38},{"s":"DOHSBF-3","x":405,"y":0.42},{"s":"DOHSBF-3","x":410,"y":0.55},{"s":"DOHSBF-3","x":415,"y":0.75},{"s":"DOHSBF-3","x":420,"y":0.91},{"s":"DOHSBF-3","x":423,"y":0.96},{"s":"DOHSBF-3","x":425,"y":0.95},{"s":"DOHSBF-3","x":430,"y":0.93},{"s":"DOHSBF-3","x":435,"y":0.97},{"s":"DOHSBF-3","x":440,"y":1.0},{"s":"DOHSBF-3","x":443,"y":1.0},{"s":"DOHSBF-3","x":445,"y":0.99},{"s":"DOHSBF-3","x":450,"y":0.94},{"s":"DOHSBF-3","x":455,"y":0.87},{"s":"DOHSBF-3","x":460,"y":0.80},{"s":"DOHSBF-3","x":465,"y":0.74},{"s":"DOHSBF-3","x":470,"y":0.68},{"s":"DOHSBF-3","x":475,"y":0.62},{"s":"DOHSBF-3","x":480,"y":0.55},{"s":"DOHSBF-3","x":485,"y":0.47},{"s":"DOHSBF-3","x":490,"y":0.41},{"s":"DOHSBF-3","x":495,"y":0.36},{"s":"DOHSBF-3","x":500,"y":0.32},{"s":"DOHSBF-3","x":510,"y":0.27},{"s":"DOHSBF-3","x":530,"y":0.17},{"s":"DOHSBF-3","x":550,"y":0.11},{"s":"DOHSBF-3","x":570,"y":0.065},{"s":"DOHSBF-3","x":590,"y":0.04},{"s":"DOHSBF-3","x":610,"y":0.028},{"s":"DOHSBF-3","x":630,"y":0.016},{"s":"DOHSBF-3","x":650,"y":0.008},{"s":"DOHSBF-3","x":670,"y":0.004},{"s":"DOHSBF-3","x":690,"y":0.002},{"s":"DOHSBF-3","x":700,"y":0}
],
"D_UV":[
{"s":"DOHSBF-mix","x":310,"y":0.66},{"s":"DOHSBF-mix","x":315,"y":0.70},{"s":"DOHSBF-mix","x":320,"y":0.78},{"s":"DOHSBF-mix","x":325,"y":0.85},{"s":"DOHSBF-mix","x":330,"y":0.90},{"s":"DOHSBF-mix","x":335,"y":0.97},{"s":"DOHSBF-mix","x":338,"y":1.0},{"s":"DOHSBF-mix","x":340,"y":1.0},{"s":"DOHSBF-mix","x":343,"y":0.98},{"s":"DOHSBF-mix","x":346,"y":0.94},{"s":"DOHSBF-mix","x":350,"y":0.85},{"s":"DOHSBF-mix","x":355,"y":0.70},{"s":"DOHSBF-mix","x":360,"y":0.55},{"s":"DOHSBF-mix","x":365,"y":0.40},{"s":"DOHSBF-mix","x":370,"y":0.28},{"s":"DOHSBF-mix","x":375,"y":0.22},{"s":"DOHSBF-mix","x":380,"y":0.18},{"s":"DOHSBF-mix","x":385,"y":0.16},{"s":"DOHSBF-mix","x":390,"y":0.145},{"s":"DOHSBF-mix","x":395,"y":0.135},{"s":"DOHSBF-mix","x":400,"y":0.125},{"s":"DOHSBF-mix","x":420,"y":0.105},{"s":"DOHSBF-mix","x":440,"y":0.09},{"s":"DOHSBF-mix","x":460,"y":0.078},{"s":"DOHSBF-mix","x":480,"y":0.068},{"s":"DOHSBF-mix","x":500,"y":0.06},{"s":"DOHSBF-mix","x":520,"y":0.052},{"s":"DOHSBF-mix","x":540,"y":0.045},{"s":"DOHSBF-mix","x":560,"y":0.038},{"s":"DOHSBF-mix","x":580,"y":0.032},{"s":"DOHSBF-mix","x":600,"y":0.026},{"s":"DOHSBF-mix","x":620,"y":0.02},{"s":"DOHSBF-mix","x":640,"y":0.015},{"s":"DOHSBF-mix","x":660,"y":0.011},{"s":"DOHSBF-mix","x":680,"y":0.008},{"s":"DOHSBF-mix","x":700,"y":0.005},
{"s":"DOHSBF-1","x":310,"y":0.75},{"s":"DOHSBF-1","x":315,"y":0.77},{"s":"DOHSBF-1","x":320,"y":0.81},{"s":"DOHSBF-1","x":325,"y":0.86},{"s":"DOHSBF-1","x":330,"y":0.92},{"s":"DOHSBF-1","x":335,"y":0.97},{"s":"DOHSBF-1","x":339,"y":1.0},{"s":"DOHSBF-1","x":342,"y":0.99},{"s":"DOHSBF-1","x":345,"y":0.96},{"s":"DOHSBF-1","x":350,"y":0.90},{"s":"DOHSBF-1","x":355,"y":0.80},{"s":"DOHSBF-1","x":360,"y":0.64},{"s":"DOHSBF-1","x":365,"y":0.46},{"s":"DOHSBF-1","x":370,"y":0.34},{"s":"DOHSBF-1","x":375,"y":0.30},{"s":"DOHSBF-1","x":380,"y":0.29},{"s":"DOHSBF-1","x":383,"y":0.29},{"s":"DOHSBF-1","x":386,"y":0.24},{"s":"DOHSBF-1","x":390,"y":0.22},{"s":"DOHSBF-1","x":395,"y":0.205},{"s":"DOHSBF-1","x":400,"y":0.19},{"s":"DOHSBF-1","x":420,"y":0.155},{"s":"DOHSBF-1","x":440,"y":0.135},{"s":"DOHSBF-1","x":460,"y":0.115},{"s":"DOHSBF-1","x":480,"y":0.10},{"s":"DOHSBF-1","x":500,"y":0.09},{"s":"DOHSBF-1","x":520,"y":0.076},{"s":"DOHSBF-1","x":540,"y":0.065},{"s":"DOHSBF-1","x":560,"y":0.055},{"s":"DOHSBF-1","x":580,"y":0.046},{"s":"DOHSBF-1","x":600,"y":0.038},{"s":"DOHSBF-1","x":620,"y":0.03},{"s":"DOHSBF-1","x":640,"y":0.023},{"s":"DOHSBF-1","x":660,"y":0.016},{"s":"DOHSBF-1","x":680,"y":0.01},{"s":"DOHSBF-1","x":700,"y":0.005},
{"s":"DOHSBF-2","x":310,"y":0.60},{"s":"DOHSBF-2","x":315,"y":0.67},{"s":"DOHSBF-2","x":320,"y":0.75},{"s":"DOHSBF-2","x":325,"y":0.84},{"s":"DOHSBF-2","x":330,"y":0.91},{"s":"DOHSBF-2","x":335,"y":0.96},{"s":"DOHSBF-2","x":338,"y":1.0},{"s":"DOHSBF-2","x":341,"y":0.95},{"s":"DOHSBF-2","x":345,"y":0.86},{"s":"DOHSBF-2","x":350,"y":0.77},{"s":"DOHSBF-2","x":355,"y":0.66},{"s":"DOHSBF-2","x":360,"y":0.52},{"s":"DOHSBF-2","x":365,"y":0.38},{"s":"DOHSBF-2","x":370,"y":0.26},{"s":"DOHSBF-2","x":375,"y":0.20},{"s":"DOHSBF-2","x":380,"y":0.17},{"s":"DOHSBF-2","x":385,"y":0.155},{"s":"DOHSBF-2","x":390,"y":0.14},{"s":"DOHSBF-2","x":395,"y":0.13},{"s":"DOHSBF-2","x":400,"y":0.12},{"s":"DOHSBF-2","x":420,"y":0.105},{"s":"DOHSBF-2","x":440,"y":0.092},{"s":"DOHSBF-2","x":460,"y":0.08},{"s":"DOHSBF-2","x":480,"y":0.07},{"s":"DOHSBF-2","x":500,"y":0.062},{"s":"DOHSBF-2","x":520,"y":0.054},{"s":"DOHSBF-2","x":540,"y":0.046},{"s":"DOHSBF-2","x":560,"y":0.04},{"s":"DOHSBF-2","x":580,"y":0.033},{"s":"DOHSBF-2","x":600,"y":0.027},{"s":"DOHSBF-2","x":620,"y":0.021},{"s":"DOHSBF-2","x":640,"y":0.016},{"s":"DOHSBF-2","x":660,"y":0.011},{"s":"DOHSBF-2","x":680,"y":0.008},{"s":"DOHSBF-2","x":700,"y":0.005},
{"s":"DOHSBF-3","x":310,"y":0.52},{"s":"DOHSBF-3","x":312,"y":0.57},{"s":"DOHSBF-3","x":314,"y":0.55},{"s":"DOHSBF-3","x":316,"y":0.62},{"s":"DOHSBF-3","x":318,"y":0.66},{"s":"DOHSBF-3","x":320,"y":0.64},{"s":"DOHSBF-3","x":322,"y":0.72},{"s":"DOHSBF-3","x":324,"y":0.70},{"s":"DOHSBF-3","x":326,"y":0.78},{"s":"DOHSBF-3","x":328,"y":0.82},{"s":"DOHSBF-3","x":330,"y":0.86},{"s":"DOHSBF-3","x":332,"y":0.90},{"s":"DOHSBF-3","x":334,"y":0.93},{"s":"DOHSBF-3","x":336,"y":0.96},{"s":"DOHSBF-3","x":338,"y":0.99},{"s":"DOHSBF-3","x":339,"y":0.94},{"s":"DOHSBF-3","x":340,"y":0.91},{"s":"DOHSBF-3","x":342,"y":0.88},{"s":"DOHSBF-3","x":344,"y":0.85},{"s":"DOHSBF-3","x":346,"y":0.81},{"s":"DOHSBF-3","x":348,"y":0.77},{"s":"DOHSBF-3","x":350,"y":0.73},{"s":"DOHSBF-3","x":352,"y":0.70},{"s":"DOHSBF-3","x":354,"y":0.66},{"s":"DOHSBF-3","x":356,"y":0.61},{"s":"DOHSBF-3","x":358,"y":0.56},{"s":"DOHSBF-3","x":360,"y":0.51},{"s":"DOHSBF-3","x":362,"y":0.46},{"s":"DOHSBF-3","x":364,"y":0.40},{"s":"DOHSBF-3","x":366,"y":0.34},{"s":"DOHSBF-3","x":368,"y":0.28},{"s":"DOHSBF-3","x":370,"y":0.23},{"s":"DOHSBF-3","x":372,"y":0.19},{"s":"DOHSBF-3","x":374,"y":0.17},{"s":"DOHSBF-3","x":376,"y":0.16},{"s":"DOHSBF-3","x":378,"y":0.15},{"s":"DOHSBF-3","x":380,"y":0.155},{"s":"DOHSBF-3","x":382,"y":0.15},{"s":"DOHSBF-3","x":384,"y":0.14},{"s":"DOHSBF-3","x":386,"y":0.135},{"s":"DOHSBF-3","x":388,"y":0.13},{"s":"DOHSBF-3","x":390,"y":0.125},{"s":"DOHSBF-3","x":392,"y":0.12},{"s":"DOHSBF-3","x":395,"y":0.115},{"s":"DOHSBF-3","x":398,"y":0.11},{"s":"DOHSBF-3","x":400,"y":0.105},{"s":"DOHSBF-3","x":405,"y":0.10},{"s":"DOHSBF-3","x":410,"y":0.097},{"s":"DOHSBF-3","x":415,"y":0.09},{"s":"DOHSBF-3","x":420,"y":0.088},{"s":"DOHSBF-3","x":425,"y":0.085},{"s":"DOHSBF-3","x":430,"y":0.082},{"s":"DOHSBF-3","x":435,"y":0.078},{"s":"DOHSBF-3","x":440,"y":0.08},{"s":"DOHSBF-3","x":445,"y":0.074},{"s":"DOHSBF-3","x":450,"y":0.072},{"s":"DOHSBF-3","x":455,"y":0.07},{"s":"DOHSBF-3","x":460,"y":0.068},{"s":"DOHSBF-3","x":465,"y":0.066},{"s":"DOHSBF-3","x":470,"y":0.063},{"s":"DOHSBF-3","x":475,"y":0.064},{"s":"DOHSBF-3","x":480,"y":0.06},{"s":"DOHSBF-3","x":490,"y":0.056},{"s":"DOHSBF-3","x":500,"y":0.052},{"s":"DOHSBF-3","x":510,"y":0.05},{"s":"DOHSBF-3","x":520,"y":0.047},{"s":"DOHSBF-3","x":530,"y":0.045},{"s":"DOHSBF-3","x":540,"y":0.042},{"s":"DOHSBF-3","x":550,"y":0.04},{"s":"DOHSBF-3","x":560,"y":0.036},{"s":"DOHSBF-3","x":570,"y":0.034},{"s":"DOHSBF-3","x":580,"y":0.03},{"s":"DOHSBF-3","x":590,"y":0.028},{"s":"DOHSBF-3","x":600,"y":0.025},{"s":"DOHSBF-3","x":610,"y":0.024},{"s":"DOHSBF-3","x":620,"y":0.02},{"s":"DOHSBF-3","x":630,"y":0.021},{"s":"DOHSBF-3","x":640,"y":0.016},{"s":"DOHSBF-3","x":650,"y":0.015},{"s":"DOHSBF-3","x":660,"y":0.012},{"s":"DOHSBF-3","x":670,"y":0.011},{"s":"DOHSBF-3","x":680,"y":0.008},{"s":"DOHSBF-3","x":690,"y":0.007},{"s":"DOHSBF-3","x":700,"y":0.004}
],
"D_PL":[
{"s":"DOHSBF-mix","x":370,"y":0.11},{"s":"DOHSBF-mix","x":375,"y":0.16},{"s":"DOHSBF-mix","x":380,"y":0.20},{"s":"DOHSBF-mix","x":385,"y":0.24},{"s":"DOHSBF-mix","x":390,"y":0.28},{"s":"DOHSBF-mix","x":395,"y":0.30},{"s":"DOHSBF-mix","x":400,"y":0.33},{"s":"DOHSBF-mix","x":405,"y":0.38},{"s":"DOHSBF-mix","x":410,"y":0.56},{"s":"DOHSBF-mix","x":415,"y":0.80},{"s":"DOHSBF-mix","x":420,"y":0.96},{"s":"DOHSBF-mix","x":423,"y":0.98},{"s":"DOHSBF-mix","x":425,"y":0.96},{"s":"DOHSBF-mix","x":430,"y":0.93},{"s":"DOHSBF-mix","x":435,"y":0.95},{"s":"DOHSBF-mix","x":440,"y":0.99},{"s":"DOHSBF-mix","x":443,"y":1.0},{"s":"DOHSBF-mix","x":445,"y":0.99},{"s":"DOHSBF-mix","x":450,"y":0.93},{"s":"DOHSBF-mix","x":455,"y":0.85},{"s":"DOHSBF-mix","x":460,"y":0.77},{"s":"DOHSBF-mix","x":465,"y":0.70},{"s":"DOHSBF-mix","x":470,"y":0.63},{"s":"DOHSBF-mix","x":475,"y":0.55},{"s":"DOHSBF-mix","x":480,"y":0.48},{"s":"DOHSBF-mix","x":485,"y":0.41},{"s":"DOHSBF-mix","x":490,"y":0.34},{"s":"DOHSBF-mix","x":495,"y":0.28},{"s":"DOHSBF-mix","x":500,"y":0.24},{"s":"DOHSBF-mix","x":510,"y":0.19},{"s":"DOHSBF-mix","x":530,"y":0.105},{"s":"DOHSBF-mix","x":550,"y":0.055},{"s":"DOHSBF-mix","x":570,"y":0.028},{"s":"DOHSBF-mix","x":590,"y":0.014},{"s":"DOHSBF-mix","x":610,"y":0.006},{"s":"DOHSBF-mix","x":630,"y":0.003},{"s":"DOHSBF-mix","x":650,"y":0.001},{"s":"DOHSBF-mix","x":670,"y":0},{"s":"DOHSBF-mix","x":690,"y":0},{"s":"DOHSBF-mix","x":700,"y":0},
{"s":"DOHSBF-1","x":370,"y":0.10},{"s":"DOHSBF-1","x":375,"y":0.14},{"s":"DOHSBF-1","x":380,"y":0.18},{"s":"DOHSBF-1","x":385,"y":0.22},{"s":"DOHSBF-1","x":390,"y":0.26},{"s":"DOHSBF-1","x":395,"y":0.29},{"s":"DOHSBF-1","x":400,"y":0.32},{"s":"DOHSBF-1","x":405,"y":0.38},{"s":"DOHSBF-1","x":410,"y":0.56},{"s":"DOHSBF-1","x":415,"y":0.79},{"s":"DOHSBF-1","x":420,"y":0.95},{"s":"DOHSBF-1","x":423,"y":0.97},{"s":"DOHSBF-1","x":425,"y":0.95},{"s":"DOHSBF-1","x":430,"y":0.93},{"s":"DOHSBF-1","x":435,"y":0.95},{"s":"DOHSBF-1","x":440,"y":0.99},{"s":"DOHSBF-1","x":443,"y":1.0},{"s":"DOHSBF-1","x":445,"y":0.99},{"s":"DOHSBF-1","x":450,"y":0.93},{"s":"DOHSBF-1","x":455,"y":0.85},{"s":"DOHSBF-1","x":460,"y":0.77},{"s":"DOHSBF-1","x":465,"y":0.70},{"s":"DOHSBF-1","x":470,"y":0.63},{"s":"DOHSBF-1","x":475,"y":0.56},{"s":"DOHSBF-1","x":480,"y":0.49},{"s":"DOHSBF-1","x":485,"y":0.42},{"s":"DOHSBF-1","x":490,"y":0.35},{"s":"DOHSBF-1","x":495,"y":0.29},{"s":"DOHSBF-1","x":500,"y":0.25},{"s":"DOHSBF-1","x":510,"y":0.19},{"s":"DOHSBF-1","x":530,"y":0.11},{"s":"DOHSBF-1","x":550,"y":0.057},{"s":"DOHSBF-1","x":570,"y":0.03},{"s":"DOHSBF-1","x":590,"y":0.015},{"s":"DOHSBF-1","x":610,"y":0.007},{"s":"DOHSBF-1","x":630,"y":0.003},{"s":"DOHSBF-1","x":650,"y":0.001},{"s":"DOHSBF-1","x":670,"y":0},{"s":"DOHSBF-1","x":690,"y":0},{"s":"DOHSBF-1","x":700,"y":0},
{"s":"DOHSBF-2","x":370,"y":0.10},{"s":"DOHSBF-2","x":375,"y":0.14},{"s":"DOHSBF-2","x":380,"y":0.18},{"s":"DOHSBF-2","x":385,"y":0.21},{"s":"DOHSBF-2","x":390,"y":0.25},{"s":"DOHSBF-2","x":395,"y":0.28},{"s":"DOHSBF-2","x":400,"y":0.32},{"s":"DOHSBF-2","x":405,"y":0.37},{"s":"DOHSBF-2","x":410,"y":0.55},{"s":"DOHSBF-2","x":415,"y":0.79},{"s":"DOHSBF-2","x":420,"y":0.94},{"s":"DOHSBF-2","x":423,"y":0.96},{"s":"DOHSBF-2","x":425,"y":0.95},{"s":"DOHSBF-2","x":430,"y":0.93},{"s":"DOHSBF-2","x":435,"y":0.95},{"s":"DOHSBF-2","x":440,"y":0.99},{"s":"DOHSBF-2","x":443,"y":1.0},{"s":"DOHSBF-2","x":445,"y":0.99},{"s":"DOHSBF-2","x":450,"y":0.93},{"s":"DOHSBF-2","x":455,"y":0.85},{"s":"DOHSBF-2","x":460,"y":0.77},{"s":"DOHSBF-2","x":465,"y":0.70},{"s":"DOHSBF-2","x":470,"y":0.63},{"s":"DOHSBF-2","x":475,"y":0.56},{"s":"DOHSBF-2","x":480,"y":0.49},{"s":"DOHSBF-2","x":485,"y":0.42},{"s":"DOHSBF-2","x":490,"y":0.35},{"s":"DOHSBF-2","x":495,"y":0.29},{"s":"DOHSBF-2","x":500,"y":0.25},{"s":"DOHSBF-2","x":510,"y":0.195},{"s":"DOHSBF-2","x":530,"y":0.11},{"s":"DOHSBF-2","x":550,"y":0.058},{"s":"DOHSBF-2","x":570,"y":0.03},{"s":"DOHSBF-2","x":590,"y":0.015},{"s":"DOHSBF-2","x":610,"y":0.007},{"s":"DOHSBF-2","x":630,"y":0.003},{"s":"DOHSBF-2","x":650,"y":0.001},{"s":"DOHSBF-2","x":670,"y":0},{"s":"DOHSBF-2","x":690,"y":0},{"s":"DOHSBF-2","x":700,"y":0},
{"s":"DOHSBF-3","x":370,"y":0.09},{"s":"DOHSBF-3","x":375,"y":0.13},{"s":"DOHSBF-3","x":380,"y":0.17},{"s":"DOHSBF-3","x":385,"y":0.20},{"s":"DOHSBF-3","x":390,"y":0.24},{"s":"DOHSBF-3","x":395,"y":0.27},{"s":"DOHSBF-3","x":400,"y":0.31},{"s":"DOHSBF-3","x":405,"y":0.37},{"s":"DOHSBF-3","x":410,"y":0.55},{"s":"DOHSBF-3","x":415,"y":0.78},{"s":"DOHSBF-3","x":420,"y":0.93},{"s":"DOHSBF-3","x":423,"y":0.95},{"s":"DOHSBF-3","x":425,"y":0.94},{"s":"DOHSBF-3","x":430,"y":0.93},{"s":"DOHSBF-3","x":435,"y":0.95},{"s":"DOHSBF-3","x":440,"y":0.99},{"s":"DOHSBF-3","x":443,"y":1.0},{"s":"DOHSBF-3","x":445,"y":0.99},{"s":"DOHSBF-3","x":450,"y":0.93},{"s":"DOHSBF-3","x":455,"y":0.85},{"s":"DOHSBF-3","x":460,"y":0.77},{"s":"DOHSBF-3","x":465,"y":0.70},{"s":"DOHSBF-3","x":470,"y":0.63},{"s":"DOHSBF-3","x":475,"y":0.56},{"s":"DOHSBF-3","x":480,"y":0.49},{"s":"DOHSBF-3","x":485,"y":0.42},{"s":"DOHSBF-3","x":490,"y":0.35},{"s":"DOHSBF-3","x":495,"y":0.29},{"s":"DOHSBF-3","x":500,"y":0.25},{"s":"DOHSBF-3","x":510,"y":0.195},{"s":"DOHSBF-3","x":530,"y":0.11},{"s":"DOHSBF-3","x":550,"y":0.058},{"s":"DOHSBF-3","x":570,"y":0.03},{"s":"DOHSBF-3","x":590,"y":0.015},{"s":"DOHSBF-3","x":610,"y":0.007},{"s":"DOHSBF-3","x":630,"y":0.003},{"s":"DOHSBF-3","x":650,"y":0.001},{"s":"DOHSBF-3","x":670,"y":0},{"s":"DOHSBF-3","x":690,"y":0},{"s":"DOHSBF-3","x":700,"y":0}
]
},
"concat":[
{
"width":338,"height":250,
"layer":[
{"data":{"name":"A_UV"},"encoding":{"x":{"field":"x","type":"quantitative","title":"Wavelength (nm)","scale":{"domain":[300,700],"nice":false,"zero":false},"axis":{"values":[300,350,400,450,500,550,600,650,700],"format":"d","labelExpr":"datum.value % 100 == 0 ? datum.label : ''","labelFlush":false,"labelOverlap":false,"labelPadding":-3,"titlePadding":8}},"y":{"field":"y","type":"quantitative","title":"UV Intensity (a.u.)","scale":{"domain":[-0.02,1.1],"nice":false,"zero":false},"axis":{"orient":"left","values":[0,0.1,0.2,0.3,0.4,0.5,0.6,0.7,0.8,0.9,1],"labelExpr":"round(datum.value*10) % 2 == 0 ? format(datum.value, '.1f') : ''","labelFlush":false,"labelOverlap":false,"labelPadding":2,"titlePadding":7}},"color":{"field":"s","type":"nominal","scale":{"domain":["DOHSBF-mix","DOHSBF-1","DOHSBF-2","DOHSBF-3"],"range":["#F7901E","#F5428D","#1DB34E","#1C6DC1"]},"legend":null}},
"layer":[{"mark":{"type":"line","strokeWidth":2.8,"interpolate":"monotone"}},{"transform":[{"filter":"datum.x % 20 == 0"}],"mark":{"type":"point","filled":true,"size":24,"opacity":1},"encoding":{"shape":{"field":"s","type":"nominal","scale":{"domain":["DOHSBF-mix","DOHSBF-1","DOHSBF-2","DOHSBF-3"],"range":["square","circle","triangle-up","diamond"]},"legend":null}}}]},
{"data":{"name":"A_PL"},"encoding":{"x":{"field":"x","type":"quantitative","title":"Wavelength (nm)","scale":{"domain":[300,700],"nice":false,"zero":false},"axis":{"values":[300,350,400,450,500,550,600,650,700],"format":"d","labelExpr":"datum.value % 100 == 0 ? datum.label : ''","labelFlush":false,"labelOverlap":false,"labelPadding":-3,"titlePadding":8}},"y":{"field":"y","type":"quantitative","title":"PL Intensity (a.u.)","scale":{"domain":[-0.02,1.1],"nice":false,"zero":false},"axis":{"orient":"right","values":[0,0.1,0.2,0.3,0.4,0.5,0.6,0.7,0.8,0.9,1],"labelExpr":"round(datum.value*10) % 2 == 0 ? format(datum.value, '.1f') : ''","labelFlush":false,"labelOverlap":false,"labelPadding":3,"titlePadding":8,"titleAngle":270,"titleBaseline":"top"}},"color":{"field":"s","type":"nominal","scale":{"domain":["DOHSBF-mix","DOHSBF-1","DOHSBF-2","DOHSBF-3"],"range":["#F7901E","#F5428D","#1DB34E","#1C6DC1"]},"legend":null}},
"layer":[{"mark":{"type":"line","strokeWidth":2.8,"interpolate":"monotone"}},{"transform":[{"filter":"datum.x % 20 == 10"}],"mark":{"type":"point","filled":false,"fill":"white","size":38,"strokeWidth":1.3,"opacity":1},"encoding":{"shape":{"field":"s","type":"nominal","scale":{"domain":["DOHSBF-mix","DOHSBF-1","DOHSBF-2","DOHSBF-3"],"range":["square","circle","triangle-up","diamond"]},"legend":null}}}]},
{"data":{"name":"legend"},"encoding":{"y":{"field":"s","type":"nominal","scale":{"domain":["DOHSBF-mix","DOHSBF-1","DOHSBF-2","DOHSBF-3"],"range":[12.5,88.5]},"axis":null},"color":{"field":"s","type":"nominal","scale":{"domain":["DOHSBF-mix","DOHSBF-1","DOHSBF-2","DOHSBF-3"],"range":["#F7901E","#F5428D","#1DB34E","#1C6DC1"]},"legend":null}},
"layer":[
{"mark":{"type":"rule","strokeWidth":2.8},"encoding":{"x":{"datum":494.1,"type":"quantitative","scale":{"domain":[300,700],"nice":false,"zero":false}},"x2":{"datum":529.6}}},
{"mark":{"type":"rule","strokeWidth":2.8},"encoding":{"x":{"datum":533.2,"type":"quantitative","scale":{"domain":[300,700],"nice":false,"zero":false}},"x2":{"datum":566.3}}},
{"mark":{"type":"point","filled":true,"size":24,"opacity":1},"encoding":{"x":{"datum":514.2,"type":"quantitative","scale":{"domain":[300,700],"nice":false,"zero":false}},"shape":{"field":"s","type":"nominal","scale":{"domain":["DOHSBF-mix","DOHSBF-1","DOHSBF-2","DOHSBF-3"],"range":["square","circle","triangle-up","diamond"]},"legend":null}}},
{"mark":{"type":"point","filled":false,"fill":"white","size":38,"strokeWidth":1.3,"opacity":1},"encoding":{"x":{"datum":548.5,"type":"quantitative","scale":{"domain":[300,700],"nice":false,"zero":false}},"shape":{"field":"s","type":"nominal","scale":{"domain":["DOHSBF-mix","DOHSBF-1","DOHSBF-2","DOHSBF-3"],"range":["square","circle","triangle-up","diamond"]},"legend":null}}},
{"mark":{"type":"text","align":"left","baseline":"middle","fontSize":15.5,"font":"Liberation Sans"},"encoding":{"x":{"datum":569.8,"type":"quantitative","scale":{"domain":[300,700],"nice":false,"zero":false}},"text":{"field":"s"},"color":{"value":"black"}}}
]},
{"data":{"values":[{}]},
"layer":[
{"mark":{"type":"rule","stroke":"#8a8a8a","strokeWidth":2},"encoding":{"x":{"datum":-1.78,"type":"quantitative","scale":{"domain":[300,700],"nice":false,"zero":false}},"x2":{"datum":1579.3},"y":{"datum":1.3464,"type":"quantitative","scale":{"domain":[-0.02,1.1],"nice":false,"zero":false},"axis":null}}},
{"mark":{"type":"rule","stroke":"#6a6a6a","strokeWidth":1},"encoding":{"x":{"datum":-1.18,"type":"quantitative","scale":{"domain":[300,700],"nice":false,"zero":false}},"y":{"datum":1.3464,"type":"quantitative","scale":{"domain":[-0.02,1.1],"nice":false,"zero":false},"axis":null},"y2":{"datum":-2.112}}},
{"mark":{"type":"text","text":"A","fontWeight":"bold","fontSize":24,"align":"left","baseline":"alphabetic","color":"black","font":"Liberation Sans"},"encoding":{"x":{"datum":228.99,"type":"quantitative","scale":{"domain":[300,700],"nice":false,"zero":false}},"y":{"datum":1.1224,"type":"quantitative","scale":{"domain":[-0.02,1.1],"nice":false,"zero":false},"axis":null}}},
{"mark":{"type":"text","text":"FIGURE 4 |","fontWeight":"bold","fontSize":18,"align":"left","baseline":"middle","color":"#111111","font":"Liberation Sans"},"encoding":{"x":{"datum":14.79,"type":"quantitative","scale":{"domain":[300,700],"nice":false,"zero":false}},"y":{"datum":-1.8972,"type":"quantitative","scale":{"domain":[-0.02,1.1],"nice":false,"zero":false},"axis":null}}},
{"mark":{"type":"text","text":"Optical properties of DOHSBF in various states. UV-vis absorption and photoluminescence (PL) spectra of DOHSBF","fontSize":18,"align":"left","baseline":"middle","color":"#111111","font":"Liberation Sans"},"encoding":{"x":{"datum":130.89,"type":"quantitative","scale":{"domain":[300,700],"nice":false,"zero":false}},"y":{"datum":-1.8972,"type":"quantitative","scale":{"domain":[-0.02,1.1],"nice":false,"zero":false},"axis":null}}},
{"mark":{"type":"text","text":"(A)","fontWeight":"bold","fontSize":18,"align":"left","baseline":"middle","color":"#111111","font":"Liberation Sans"},"encoding":{"x":{"datum":1233.02,"type":"quantitative","scale":{"domain":[300,700],"nice":false,"zero":false}},"y":{"datum":-1.8972,"type":"quantitative","scale":{"domain":[-0.02,1.1],"nice":false,"zero":false},"axis":null}}},
{"mark":{"type":"text","text":"dilute solutions,","fontSize":18,"align":"left","baseline":"middle","color":"#111111","font":"Liberation Sans"},"encoding":{"x":{"datum":1268.52,"type":"quantitative","scale":{"domain":[300,700],"nice":false,"zero":false}},"y":{"datum":-1.8972,"type":"quantitative","scale":{"domain":[-0.02,1.1],"nice":false,"zero":false},"axis":null}}},
{"mark":{"type":"text","text":"(B)","fontWeight":"bold","fontSize":18,"align":"left","baseline":"middle","color":"#111111","font":"Liberation Sans"},"encoding":{"x":{"datum":1421.3,"type":"quantitative","scale":{"domain":[300,700],"nice":false,"zero":false}},"y":{"datum":-1.8972,"type":"quantitative","scale":{"domain":[-0.02,1.1],"nice":false,"zero":false},"axis":null}}},
{"mark":{"type":"text","text":"spin-","fontSize":18,"align":"left","baseline":"middle","color":"#111111","font":"Liberation Sans"},"encoding":{"x":{"datum":1456.8,"type":"quantitative","scale":{"domain":[300,700],"nice":false,"zero":false}},"y":{"datum":-1.8972,"type":"quantitative","scale":{"domain":[-0.02,1.1],"nice":false,"zero":false},"axis":null}}},
{"mark":{"type":"text","text":"coated pristine films,","fontSize":18,"align":"left","baseline":"middle","color":"#111111","font":"Liberation Sans"},"encoding":{"x":{"datum":14.79,"type":"quantitative","scale":{"domain":[300,700],"nice":false,"zero":false}},"y":{"datum":-2.0002,"type":"quantitative","scale":{"domain":[-0.02,1.1],"nice":false,"zero":false},"axis":null}}},
{"mark":{"type":"text","text":"(C)","fontWeight":"bold","fontSize":18,"align":"left","baseline":"middle","color":"#111111","font":"Liberation Sans"},"encoding":{"x":{"datum":214.91,"type":"quantitative","scale":{"domain":[300,700],"nice":false,"zero":false}},"y":{"datum":-2.0002,"type":"quantitative","scale":{"domain":[-0.02,1.1],"nice":false,"zero":false},"axis":null}}},
{"mark":{"type":"text","text":"annealed films at 220°C for 10 min, and","fontSize":18,"align":"left","baseline":"middle","color":"#111111","font":"Liberation Sans"},"encoding":{"x":{"datum":250.41,"type":"quantitative","scale":{"domain":[300,700],"nice":false,"zero":false}},"y":{"datum":-2.0002,"type":"quantitative","scale":{"domain":[-0.02,1.1],"nice":false,"zero":false},"axis":null}}},
{"mark":{"type":"text","text":"(D)","fontWeight":"bold","fontSize":18,"align":"left","baseline":"middle","color":"#111111","font":"Liberation Sans"},"encoding":{"x":{"datum":630.77,"type":"quantitative","scale":{"domain":[300,700],"nice":false,"zero":false}},"y":{"datum":-2.0002,"type":"quantitative","scale":{"domain":[-0.02,1.1],"nice":false,"zero":false},"axis":null}}},
{"mark":{"type":"text","text":"photooxidation films, respectively.","fontSize":18,"align":"left","baseline":"middle","color":"#111111","font":"Liberation Sans"},"encoding":{"x":{"datum":666.27,"type":"quantitative","scale":{"domain":[300,700],"nice":false,"zero":false}},"y":{"datum":-2.0002,"type":"quantitative","scale":{"domain":[-0.02,1.1],"nice":false,"zero":false},"axis":null}}}
]}
],
"resolve":{"scale":{"y":"independent"}}
},
{
"width":338,"height":250,
"layer":[
{"data":{"name":"B_UV"},"encoding":{"x":{"field":"x","type":"quantitative","title":"Wavelength (nm)","scale":{"domain":[300,700],"nice":false,"zero":false},"axis":{"values":[300,350,400,450,500,550,600,650,700],"format":"d","labelExpr":"datum.value % 100 == 0 ? datum.label : ''","labelFlush":false,"labelOverlap":false,"labelPadding":-3,"titlePadding":8}},"y":{"field":"y","type":"quantitative","title":"UV Intensity (a.u.)","scale":{"domain":[-0.02,1.1],"nice":false,"zero":false},"axis":{"orient":"left","values":[0,0.1,0.2,0.3,0.4,0.5,0.6,0.7,0.8,0.9,1],"labelExpr":"round(datum.value*10) % 2 == 0 ? format(datum.value, '.1f') : ''","labelFlush":false,"labelOverlap":false,"labelPadding":2,"titlePadding":7}},"color":{"field":"s","type":"nominal","scale":{"domain":["DOHSBF-mix","DOHSBF-1","DOHSBF-2","DOHSBF-3"],"range":["#F7901E","#F5428D","#1DB34E","#1C6DC1"]},"legend":null}},
"layer":[{"mark":{"type":"line","strokeWidth":2.8,"interpolate":"monotone"}},{"transform":[{"filter":"datum.x % 20 == 0"}],"mark":{"type":"point","filled":true,"size":24,"opacity":1},"encoding":{"shape":{"field":"s","type":"nominal","scale":{"domain":["DOHSBF-mix","DOHSBF-1","DOHSBF-2","DOHSBF-3"],"range":["square","circle","triangle-up","diamond"]},"legend":null}}}]},
{"data":{"name":"B_PL"},"encoding":{"x":{"field":"x","type":"quantitative","title":"Wavelength (nm)","scale":{"domain":[300,700],"nice":false,"zero":false},"axis":{"values":[300,350,400,450,500,550,600,650,700],"format":"d","labelExpr":"datum.value % 100 == 0 ? datum.label : ''","labelFlush":false,"labelOverlap":false,"labelPadding":-3,"titlePadding":8}},"y":{"field":"y","type":"quantitative","title":"PL Intensity (a.u.)","scale":{"domain":[-0.02,1.1],"nice":false,"zero":false},"axis":{"orient":"right","values":[0,0.1,0.2,0.3,0.4,0.5,0.6,0.7,0.8,0.9,1],"labelExpr":"round(datum.value*10) % 2 == 0 ? format(datum.value, '.1f') : ''","labelFlush":false,"labelOverlap":false,"labelPadding":3,"titlePadding":8,"titleAngle":270,"titleBaseline":"top"}},"color":{"field":"s","type":"nominal","scale":{"domain":["DOHSBF-mix","DOHSBF-1","DOHSBF-2","DOHSBF-3"],"range":["#F7901E","#F5428D","#1DB34E","#1C6DC1"]},"legend":null}},
"layer":[{"mark":{"type":"line","strokeWidth":2.8,"interpolate":"monotone"}},{"transform":[{"filter":"datum.x % 20 == 10"}],"mark":{"type":"point","filled":false,"fill":"white","size":38,"strokeWidth":1.3,"opacity":1},"encoding":{"shape":{"field":"s","type":"nominal","scale":{"domain":["DOHSBF-mix","DOHSBF-1","DOHSBF-2","DOHSBF-3"],"range":["square","circle","triangle-up","diamond"]},"legend":null}}}]},
{"data":{"name":"legend"},"encoding":{"y":{"field":"s","type":"nominal","scale":{"domain":["DOHSBF-mix","DOHSBF-1","DOHSBF-2","DOHSBF-3"],"range":[12.5,88.5]},"axis":null},"color":{"field":"s","type":"nominal","scale":{"domain":["DOHSBF-mix","DOHSBF-1","DOHSBF-2","DOHSBF-3"],"range":["#F7901E","#F5428D","#1DB34E","#1C6DC1"]},"legend":null}},
"layer":[
{"mark":{"type":"rule","strokeWidth":2.8},"encoding":{"x":{"datum":494.1,"type":"quantitative","scale":{"domain":[300,700],"nice":false,"zero":false}},"x2":{"datum":529.6}}},
{"mark":{"type":"rule","strokeWidth":2.8},"encoding":{"x":{"datum":533.2,"type":"quantitative","scale":{"domain":[300,700],"nice":false,"zero":false}},"x2":{"datum":566.3}}},
{"mark":{"type":"point","filled":true,"size":24,"opacity":1},"encoding":{"x":{"datum":514.2,"type":"quantitative","scale":{"domain":[300,700],"nice":false,"zero":false}},"shape":{"field":"s","type":"nominal","scale":{"domain":["DOHSBF-mix","DOHSBF-1","DOHSBF-2","DOHSBF-3"],"range":["square","circle","triangle-up","diamond"]},"legend":null}}},
{"mark":{"type":"point","filled":false,"fill":"white","size":38,"strokeWidth":1.3,"opacity":1},"encoding":{"x":{"datum":548.5,"type":"quantitative","scale":{"domain":[300,700],"nice":false,"zero":false}},"shape":{"field":"s","type":"nominal","scale":{"domain":["DOHSBF-mix","DOHSBF-1","DOHSBF-2","DOHSBF-3"],"range":["square","circle","triangle-up","diamond"]},"legend":null}}},
{"mark":{"type":"text","align":"left","baseline":"middle","fontSize":15.5,"font":"Liberation Sans"},"encoding":{"x":{"datum":569.8,"type":"quantitative","scale":{"domain":[300,700],"nice":false,"zero":false}},"text":{"field":"s"},"color":{"value":"black"}}}
]},
{"data":{"values":[{}]},"mark":{"type":"text","text":"B","fontWeight":"bold","fontSize":24,"align":"left","baseline":"alphabetic","color":"black","font":"Liberation Sans"},"encoding":{"x":{"datum":316.57,"type":"quantitative","scale":{"domain":[300,700],"nice":false,"zero":false}},"y":{"datum":1.1224,"type":"quantitative","scale":{"domain":[-0.02,1.1],"nice":false,"zero":false},"axis":null}}}
],
"resolve":{"scale":{"y":"independent"}}
},
{
"width":338,"height":250,
"layer":[
{"data":{"name":"C_UV"},"encoding":{"x":{"field":"x","type":"quantitative","title":"Wavelength (nm)","scale":{"domain":[300,700],"nice":false,"zero":false},"axis":{"values":[300,350,400,450,500,550,600,650,700],"format":"d","labelExpr":"datum.value % 100 == 0 ? datum.label : ''","labelFlush":false,"labelOverlap":false,"labelPadding":-3,"titlePadding":8}},"y":{"field":"y","type":"quantitative","title":"UV Intensity (a.u.)","scale":{"domain":[-0.02,1.1],"nice":false,"zero":false},"axis":{"orient":"left","values":[0,0.1,0.2,0.3,0.4,0.5,0.6,0.7,0.8,0.9,1],"labelExpr":"round(datum.value*10) % 2 == 0 ? format(datum.value, '.1f') : ''","labelFlush":false,"labelOverlap":false,"labelPadding":2,"titlePadding":7}},"color":{"field":"s","type":"nominal","scale":{"domain":["DOHSBF-mix","DOHSBF-1","DOHSBF-2","DOHSBF-3"],"range":["#F7901E","#F5428D","#1DB34E","#1C6DC1"]},"legend":null}},
"layer":[{"mark":{"type":"line","strokeWidth":2.8,"interpolate":"monotone"}},{"transform":[{"filter":"datum.x % 20 == 0"}],"mark":{"type":"point","filled":true,"size":24,"opacity":1},"encoding":{"shape":{"field":"s","type":"nominal","scale":{"domain":["DOHSBF-mix","DOHSBF-1","DOHSBF-2","DOHSBF-3"],"range":["square","circle","triangle-up","diamond"]},"legend":null}}}]},
{"data":{"name":"C_PL"},"encoding":{"x":{"field":"x","type":"quantitative","title":"Wavelength (nm)","scale":{"domain":[300,700],"nice":false,"zero":false},"axis":{"values":[300,350,400,450,500,550,600,650,700],"format":"d","labelExpr":"datum.value % 100 == 0 ? datum.label : ''","labelFlush":false,"labelOverlap":false,"labelPadding":-3,"titlePadding":8}},"y":{"field":"y","type":"quantitative","title":"PL Intensity (a.u.)","scale":{"domain":[-0.02,1.1],"nice":false,"zero":false},"axis":{"orient":"right","values":[0,0.1,0.2,0.3,0.4,0.5,0.6,0.7,0.8,0.9,1],"labelExpr":"round(datum.value*10) % 2 == 0 ? format(datum.value, '.1f') : ''","labelFlush":false,"labelOverlap":false,"labelPadding":3,"titlePadding":8,"titleAngle":270,"titleBaseline":"top"}},"color":{"field":"s","type":"nominal","scale":{"domain":["DOHSBF-mix","DOHSBF-1","DOHSBF-2","DOHSBF-3"],"range":["#F7901E","#F5428D","#1DB34E","#1C6DC1"]},"legend":null}},
"layer":[{"mark":{"type":"line","strokeWidth":2.8,"interpolate":"monotone"}},{"transform":[{"filter":"datum.x % 20 == 10"}],"mark":{"type":"point","filled":false,"fill":"white","size":38,"strokeWidth":1.3,"opacity":1},"encoding":{"shape":{"field":"s","type":"nominal","scale":{"domain":["DOHSBF-mix","DOHSBF-1","DOHSBF-2","DOHSBF-3"],"range":["square","circle","triangle-up","diamond"]},"legend":null}}}]},
{"data":{"name":"legend"},"encoding":{"y":{"field":"s","type":"nominal","scale":{"domain":["DOHSBF-mix","DOHSBF-1","DOHSBF-2","DOHSBF-3"],"range":[12.5,88.5]},"axis":null},"color":{"field":"s","type":"nominal","scale":{"domain":["DOHSBF-mix","DOHSBF-1","DOHSBF-2","DOHSBF-3"],"range":["#F7901E","#F5428D","#1DB34E","#1C6DC1"]},"legend":null}},
"layer":[
{"mark":{"type":"rule","strokeWidth":2.8},"encoding":{"x":{"datum":494.1,"type":"quantitative","scale":{"domain":[300,700],"nice":false,"zero":false}},"x2":{"datum":529.6}}},
{"mark":{"type":"rule","strokeWidth":2.8},"encoding":{"x":{"datum":533.2,"type":"quantitative","scale":{"domain":[300,700],"nice":false,"zero":false}},"x2":{"datum":566.3}}},
{"mark":{"type":"point","filled":true,"size":24,"opacity":1},"encoding":{"x":{"datum":514.2,"type":"quantitative","scale":{"domain":[300,700],"nice":false,"zero":false}},"shape":{"field":"s","type":"nominal","scale":{"domain":["DOHSBF-mix","DOHSBF-1","DOHSBF-2","DOHSBF-3"],"range":["square","circle","triangle-up","diamond"]},"legend":null}}},
{"mark":{"type":"point","filled":false,"fill":"white","size":38,"strokeWidth":1.3,"opacity":1},"encoding":{"x":{"datum":548.5,"type":"quantitative","scale":{"domain":[300,700],"nice":false,"zero":false}},"shape":{"field":"s","type":"nominal","scale":{"domain":["DOHSBF-mix","DOHSBF-1","DOHSBF-2","DOHSBF-3"],"range":["square","circle","triangle-up","diamond"]},"legend":null}}},
{"mark":{"type":"text","align":"left","baseline":"middle","fontSize":15.5,"font":"Liberation Sans"},"encoding":{"x":{"datum":569.8,"type":"quantitative","scale":{"domain":[300,700],"nice":false,"zero":false}},"text":{"field":"s"},"color":{"value":"black"}}}
]},
{"data":{"values":[{}]},"mark":{"type":"text","text":"C","fontWeight":"bold","fontSize":24,"align":"left","baseline":"alphabetic","color":"black","font":"Liberation Sans"},"encoding":{"x":{"datum":228.99,"type":"quantitative","scale":{"domain":[300,700],"nice":false,"zero":false}},"y":{"datum":1.1224,"type":"quantitative","scale":{"domain":[-0.02,1.1],"nice":false,"zero":false},"axis":null}}}
],
"resolve":{"scale":{"y":"independent"}}
},
{
"width":338,"height":250,
"layer":[
{"data":{"name":"D_UV"},"encoding":{"x":{"field":"x","type":"quantitative","title":"Wavelength (nm)","scale":{"domain":[310,700],"nice":false,"zero":false},"axis":{"values":[350,400,450,500,550,600,650,700],"format":"d","labelExpr":"datum.value % 100 == 0 ? datum.label : ''","labelFlush":false,"labelOverlap":false,"labelPadding":-3,"titlePadding":8}},"y":{"field":"y","type":"quantitative","title":"UV Intensity (a.u.)","scale":{"domain":[-0.02,1.1],"nice":false,"zero":false},"axis":{"orient":"left","values":[0,0.1,0.2,0.3,0.4,0.5,0.6,0.7,0.8,0.9,1],"labelExpr":"round(datum.value*10) % 2 == 0 ? format(datum.value, '.1f') : ''","labelFlush":false,"labelOverlap":false,"labelPadding":2,"titlePadding":7}},"color":{"field":"s","type":"nominal","scale":{"domain":["DOHSBF-mix","DOHSBF-1","DOHSBF-2","DOHSBF-3"],"range":["#F7901E","#F5428D","#1DB34E","#1C6DC1"]},"legend":null}},
"layer":[{"mark":{"type":"line","strokeWidth":2.8,"interpolate":"monotone"}},{"transform":[{"filter":"datum.x % 20 == 0"}],"mark":{"type":"point","filled":true,"size":24,"opacity":1},"encoding":{"shape":{"field":"s","type":"nominal","scale":{"domain":["DOHSBF-mix","DOHSBF-1","DOHSBF-2","DOHSBF-3"],"range":["square","circle","triangle-up","diamond"]},"legend":null}}}]},
{"data":{"name":"D_PL"},"encoding":{"x":{"field":"x","type":"quantitative","title":"Wavelength (nm)","scale":{"domain":[310,700],"nice":false,"zero":false},"axis":{"values":[350,400,450,500,550,600,650,700],"format":"d","labelExpr":"datum.value % 100 == 0 ? datum.label : ''","labelFlush":false,"labelOverlap":false,"labelPadding":-3,"titlePadding":8}},"y":{"field":"y","type":"quantitative","title":"PL Intensity (a.u.)","scale":{"domain":[-0.02,1.1],"nice":false,"zero":false},"axis":{"orient":"right","values":[0,0.1,0.2,0.3,0.4,0.5,0.6,0.7,0.8,0.9,1],"labelExpr":"round(datum.value*10) % 2 == 0 ? format(datum.value, '.1f') : ''","labelFlush":false,"labelOverlap":false,"labelPadding":3,"titlePadding":8,"titleAngle":270,"titleBaseline":"top"}},"color":{"field":"s","type":"nominal","scale":{"domain":["DOHSBF-mix","DOHSBF-1","DOHSBF-2","DOHSBF-3"],"range":["#F7901E","#F5428D","#1DB34E","#1C6DC1"]},"legend":null}},
"layer":[{"mark":{"type":"line","strokeWidth":2.8,"interpolate":"monotone"}},{"transform":[{"filter":"datum.x % 20 == 10"}],"mark":{"type":"point","filled":false,"fill":"white","size":38,"strokeWidth":1.3,"opacity":1},"encoding":{"shape":{"field":"s","type":"nominal","scale":{"domain":["DOHSBF-mix","DOHSBF-1","DOHSBF-2","DOHSBF-3"],"range":["square","circle","triangle-up","diamond"]},"legend":null}}}]},
{"data":{"name":"legend"},"encoding":{"y":{"field":"s","type":"nominal","scale":{"domain":["DOHSBF-mix","DOHSBF-1","DOHSBF-2","DOHSBF-3"],"range":[11,83]},"axis":null},"color":{"field":"s","type":"nominal","scale":{"domain":["DOHSBF-mix","DOHSBF-1","DOHSBF-2","DOHSBF-3"],"range":["#F7901E","#F5428D","#1DB34E","#1C6DC1"]},"legend":null}},
"layer":[
{"mark":{"type":"rule","strokeWidth":2.8},"encoding":{"x":{"datum":505,"type":"quantitative","scale":{"domain":[310,700],"nice":false,"zero":false}},"x2":{"datum":539.6}}},
{"mark":{"type":"rule","strokeWidth":2.8},"encoding":{"x":{"datum":543.1,"type":"quantitative","scale":{"domain":[310,700],"nice":false,"zero":false}},"x2":{"datum":575.4}}},
{"mark":{"type":"point","filled":true,"size":24,"opacity":1},"encoding":{"x":{"datum":524.6,"type":"quantitative","scale":{"domain":[310,700],"nice":false,"zero":false}},"shape":{"field":"s","type":"nominal","scale":{"domain":["DOHSBF-mix","DOHSBF-1","DOHSBF-2","DOHSBF-3"],"range":["square","circle","triangle-up","diamond"]},"legend":null}}},
{"mark":{"type":"point","filled":false,"fill":"white","size":38,"strokeWidth":1.3,"opacity":1},"encoding":{"x":{"datum":558.1,"type":"quantitative","scale":{"domain":[310,700],"nice":false,"zero":false}},"shape":{"field":"s","type":"nominal","scale":{"domain":["DOHSBF-mix","DOHSBF-1","DOHSBF-2","DOHSBF-3"],"range":["square","circle","triangle-up","diamond"]},"legend":null}}},
{"mark":{"type":"text","align":"left","baseline":"middle","fontSize":15.5,"font":"Liberation Sans"},"encoding":{"x":{"datum":577.7,"type":"quantitative","scale":{"domain":[310,700],"nice":false,"zero":false}},"text":{"field":"s"},"color":{"value":"black"}}}
]},
{"data":{"values":[{}]},"mark":{"type":"text","text":"D","fontWeight":"bold","fontSize":24,"align":"left","baseline":"alphabetic","color":"black","font":"Liberation Sans"},"encoding":{"x":{"datum":326.15,"type":"quantitative","scale":{"domain":[310,700],"nice":false,"zero":false}},"y":{"datum":1.1224,"type":"quantitative","scale":{"domain":[-0.02,1.1],"nice":false,"zero":false},"axis":null}}}
],
"resolve":{"scale":{"y":"independent"}}
}
],
"config":{
"font":"Liberation Sans",
"view":{"stroke":"black","strokeWidth":2},
"axis":{"domainColor":"black","domainWidth":2,"tickColor":"black","tickWidth":1.5,"tickSize":6,"labelColor":"black","titleColor":"black","labelFont":"Liberation Sans","titleFont":"Liberation Sans","labelFontSize":18,"titleFontSize":20,"titleFontWeight":"normal","grid":false}
}
}
